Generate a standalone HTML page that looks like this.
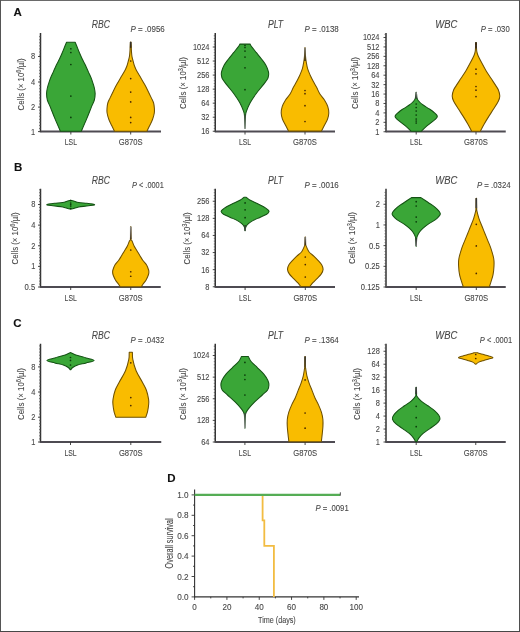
<!DOCTYPE html><html><head><meta charset="utf-8"><style>html,body{margin:0;padding:0;background:#fff;}svg{display:block;will-change:transform;font-family:"Liberation Sans",sans-serif;}</style></head><body>
<svg width="520" height="632" viewBox="0 0 520 632">
<rect x="0" y="0" width="520" height="632" fill="#fff"/>
<text x="13.6" y="15.8" font-size="11.5" text-anchor="start" font-weight="bold" fill="#111" stroke="#111" stroke-width="0.1">A</text>
<text x="14.1" y="171.2" font-size="11.5" text-anchor="start" font-weight="bold" fill="#111" stroke="#111" stroke-width="0.1">B</text>
<text x="13.3" y="326.6" font-size="11.5" text-anchor="start" font-weight="bold" fill="#111" stroke="#111" stroke-width="0.1">C</text>
<text x="167.2" y="481.6" font-size="11.5" text-anchor="start" font-weight="bold" fill="#111" stroke="#111" stroke-width="0.1">D</text>
<line x1="40.5" y1="33" x2="40.5" y2="132.3" stroke="#333333" stroke-width="1.5"/><line x1="38.0" y1="131.6" x2="40.5" y2="131.6" stroke="#333333" stroke-width="0.9"/><text x="35.1" y="134.5" font-size="8.3" text-anchor="end" font-weight="normal" fill="#474747" stroke="#474747" stroke-width="0.1" textLength="4.15" lengthAdjust="spacingAndGlyphs">1</text><line x1="38.0" y1="107.1" x2="40.5" y2="107.1" stroke="#333333" stroke-width="0.9"/><text x="35.1" y="110.0" font-size="8.3" text-anchor="end" font-weight="normal" fill="#474747" stroke="#474747" stroke-width="0.1" textLength="4.15" lengthAdjust="spacingAndGlyphs">2</text><line x1="38.0" y1="82" x2="40.5" y2="82" stroke="#333333" stroke-width="0.9"/><text x="35.1" y="84.9" font-size="8.3" text-anchor="end" font-weight="normal" fill="#474747" stroke="#474747" stroke-width="0.1" textLength="4.15" lengthAdjust="spacingAndGlyphs">4</text><line x1="38.0" y1="56.5" x2="40.5" y2="56.5" stroke="#333333" stroke-width="0.9"/><text x="35.1" y="59.4" font-size="8.3" text-anchor="end" font-weight="normal" fill="#474747" stroke="#474747" stroke-width="0.1" textLength="4.15" lengthAdjust="spacingAndGlyphs">8</text><line x1="39.00" y1="128.54" x2="40.5" y2="128.54" stroke="#555" stroke-width="0.75"/><line x1="39.00" y1="125.47" x2="40.5" y2="125.47" stroke="#555" stroke-width="0.75"/><line x1="39.00" y1="122.41" x2="40.5" y2="122.41" stroke="#555" stroke-width="0.75"/><line x1="39.00" y1="119.35" x2="40.5" y2="119.35" stroke="#555" stroke-width="0.75"/><line x1="39.00" y1="116.29" x2="40.5" y2="116.29" stroke="#555" stroke-width="0.75"/><line x1="39.00" y1="113.22" x2="40.5" y2="113.22" stroke="#555" stroke-width="0.75"/><line x1="39.00" y1="110.16" x2="40.5" y2="110.16" stroke="#555" stroke-width="0.75"/><line x1="39.00" y1="104.04" x2="40.5" y2="104.04" stroke="#555" stroke-width="0.75"/><line x1="39.00" y1="100.97" x2="40.5" y2="100.97" stroke="#555" stroke-width="0.75"/><line x1="39.00" y1="97.91" x2="40.5" y2="97.91" stroke="#555" stroke-width="0.75"/><line x1="39.00" y1="94.85" x2="40.5" y2="94.85" stroke="#555" stroke-width="0.75"/><line x1="39.00" y1="91.79" x2="40.5" y2="91.79" stroke="#555" stroke-width="0.75"/><line x1="39.00" y1="88.72" x2="40.5" y2="88.72" stroke="#555" stroke-width="0.75"/><line x1="39.00" y1="85.66" x2="40.5" y2="85.66" stroke="#555" stroke-width="0.75"/><line x1="39.00" y1="79.54" x2="40.5" y2="79.54" stroke="#555" stroke-width="0.75"/><line x1="39.00" y1="76.47" x2="40.5" y2="76.47" stroke="#555" stroke-width="0.75"/><line x1="39.00" y1="73.41" x2="40.5" y2="73.41" stroke="#555" stroke-width="0.75"/><line x1="39.00" y1="70.35" x2="40.5" y2="70.35" stroke="#555" stroke-width="0.75"/><line x1="39.00" y1="67.29" x2="40.5" y2="67.29" stroke="#555" stroke-width="0.75"/><line x1="39.00" y1="64.22" x2="40.5" y2="64.22" stroke="#555" stroke-width="0.75"/><line x1="39.00" y1="61.16" x2="40.5" y2="61.16" stroke="#555" stroke-width="0.75"/><line x1="39.00" y1="55.04" x2="40.5" y2="55.04" stroke="#555" stroke-width="0.75"/><line x1="39.00" y1="51.97" x2="40.5" y2="51.97" stroke="#555" stroke-width="0.75"/><line x1="39.00" y1="48.91" x2="40.5" y2="48.91" stroke="#555" stroke-width="0.75"/><line x1="39.00" y1="45.85" x2="40.5" y2="45.85" stroke="#555" stroke-width="0.75"/><line x1="39.00" y1="42.79" x2="40.5" y2="42.79" stroke="#555" stroke-width="0.75"/><line x1="39.00" y1="39.72" x2="40.5" y2="39.72" stroke="#555" stroke-width="0.75"/><line x1="39.00" y1="36.66" x2="40.5" y2="36.66" stroke="#555" stroke-width="0.75"/><line x1="40.5" y1="131.5" x2="161" y2="131.5" stroke="#4e4b52" stroke-width="1.8"/><line x1="70.85" y1="131.5" x2="70.85" y2="134.5" stroke="#333333" stroke-width="0.9"/><line x1="130.7" y1="131.5" x2="130.7" y2="134.5" stroke="#333333" stroke-width="0.9"/><path d="M75.15,42.20 C75.43,42.88 76.13,44.55 76.85,46.30 C77.57,48.05 78.55,50.58 79.45,52.70 C80.35,54.82 81.25,56.90 82.25,59.00 C83.25,61.10 84.45,63.20 85.45,65.30 C86.45,67.40 87.30,69.48 88.25,71.60 C89.20,73.72 90.38,76.12 91.15,78.00 C91.92,79.88 92.32,81.23 92.85,82.90 C93.38,84.57 93.97,86.23 94.35,88.00 C94.73,89.77 95.15,91.50 95.15,93.50 C95.15,95.50 95.00,97.68 94.35,100.00 C93.70,102.32 92.53,104.25 91.25,107.40 C89.97,110.55 88.32,114.92 86.65,118.90 C84.98,122.88 82.15,129.23 81.25,131.30 L60.45,131.30 C59.55,129.23 56.72,122.88 55.05,118.90 C53.38,114.92 51.73,110.55 50.45,107.40 C49.17,104.25 48.00,102.32 47.35,100.00 C46.70,97.68 46.55,95.50 46.55,93.50 C46.55,91.50 46.97,89.77 47.35,88.00 C47.73,86.23 48.32,84.57 48.85,82.90 C49.38,81.23 49.78,79.88 50.55,78.00 C51.32,76.12 52.50,73.72 53.45,71.60 C54.40,69.48 55.25,67.40 56.25,65.30 C57.25,63.20 58.45,61.10 59.45,59.00 C60.45,56.90 61.35,54.82 62.25,52.70 C63.15,50.58 64.13,48.05 64.85,46.30 C65.57,44.55 66.27,42.88 66.55,42.20 Z" fill="#3aa637" stroke="#145214" stroke-width="1.05" stroke-linejoin="round"/><path d="M131.00,42.00 C131.05,42.93 131.22,45.95 131.30,47.60 C131.38,49.25 131.38,50.38 131.50,51.90 C131.62,53.42 131.72,55.12 132.00,56.70 C132.28,58.28 132.77,59.82 133.20,61.40 C133.63,62.98 133.98,64.55 134.60,66.20 C135.22,67.85 135.85,69.33 136.90,71.30 C137.95,73.27 139.60,75.78 140.90,78.00 C142.20,80.22 143.50,82.40 144.70,84.60 C145.90,86.80 147.00,88.98 148.10,91.20 C149.20,93.42 150.38,95.93 151.30,97.90 C152.22,99.87 153.08,101.23 153.60,103.00 C154.12,104.77 154.28,106.83 154.40,108.50 C154.52,110.17 154.60,111.20 154.30,113.00 C154.00,114.80 153.37,117.20 152.60,119.30 C151.83,121.40 150.65,123.60 149.70,125.60 C148.75,127.60 147.37,130.35 146.90,131.30 L114.50,131.30 C114.03,130.35 112.65,127.60 111.70,125.60 C110.75,123.60 109.57,121.40 108.80,119.30 C108.03,117.20 107.40,114.80 107.10,113.00 C106.80,111.20 106.88,110.17 107.00,108.50 C107.12,106.83 107.28,104.77 107.80,103.00 C108.32,101.23 109.18,99.87 110.10,97.90 C111.02,95.93 112.20,93.42 113.30,91.20 C114.40,88.98 115.50,86.80 116.70,84.60 C117.90,82.40 119.20,80.22 120.50,78.00 C121.80,75.78 123.45,73.27 124.50,71.30 C125.55,69.33 126.18,67.85 126.80,66.20 C127.42,64.55 127.77,62.98 128.20,61.40 C128.63,59.82 129.12,58.28 129.40,56.70 C129.68,55.12 129.78,53.42 129.90,51.90 C130.02,50.38 130.02,49.25 130.10,47.60 C130.18,45.95 130.35,42.93 130.40,42.00 Z" fill="#f9bc00" stroke="#6e5000" stroke-width="1.05" stroke-linejoin="round"/><linearGradient id="tg1" gradientUnits="userSpaceOnUse" x1="0" y1="41.9" x2="0" y2="47.8"><stop offset="0" stop-color="#333"/><stop offset="1" stop-color="#3a2a10"/></linearGradient><line x1="130.7" y1="41.9" x2="130.7" y2="47.8" stroke="url(#tg1)" stroke-width="1.6"/><circle cx="70.85" cy="48.75" r="0.85" fill="#0a3a0a"/><circle cx="70.85" cy="52.5" r="0.85" fill="#0a3a0a"/><circle cx="70.85" cy="64.5" r="0.85" fill="#0a3a0a"/><circle cx="70.85" cy="96.1" r="0.85" fill="#0a3a0a"/><circle cx="70.85" cy="117.4" r="0.85" fill="#0a3a0a"/><circle cx="130.7" cy="61" r="0.85" fill="#4a2800"/><circle cx="130.7" cy="78.6" r="0.85" fill="#4a2800"/><circle cx="130.7" cy="92.1" r="0.85" fill="#4a2800"/><circle cx="130.7" cy="101.9" r="0.85" fill="#4a2800"/><circle cx="130.7" cy="117.4" r="0.85" fill="#4a2800"/><circle cx="130.7" cy="122.6" r="0.85" fill="#4a2800"/><text x="70.85" y="145.2" font-size="8.2" text-anchor="middle" font-weight="normal" fill="#474747" stroke="#474747" stroke-width="0.1" textLength="12.2" lengthAdjust="spacingAndGlyphs">LSL</text><text x="130.7" y="145.2" font-size="8.2" text-anchor="middle" font-weight="normal" fill="#474747" stroke="#474747" stroke-width="0.1" textLength="23.8" lengthAdjust="spacingAndGlyphs">G870S</text><text x="100.8" y="28.1" font-size="10" text-anchor="middle" font-weight="normal" fill="#474747" stroke="#474747" stroke-width="0.1" font-style="italic" textLength="18.2" lengthAdjust="spacingAndGlyphs">RBC</text><text x="130.5" y="32" font-size="8.6" fill="#474747" stroke="#474747" stroke-width="0.1" textLength="34.30" lengthAdjust="spacingAndGlyphs"><tspan font-style="italic">P</tspan> = .0956</text><text transform="translate(24.1,84.4) rotate(-90)" font-size="9" text-anchor="middle" fill="#474747" stroke="#474747" stroke-width="0.1" textLength="52" lengthAdjust="spacingAndGlyphs">Cells (× 10<tspan font-size="6.5" dy="-3.3">6</tspan><tspan dy="3.3">/µl)</tspan></text>
<line x1="215.25" y1="33" x2="215.25" y2="132.3" stroke="#333333" stroke-width="1.5"/><line x1="212.75" y1="131.25" x2="215.25" y2="131.25" stroke="#333333" stroke-width="0.9"/><text x="209.5" y="134.15" font-size="8.3" text-anchor="end" font-weight="normal" fill="#474747" stroke="#474747" stroke-width="0.1" textLength="8.3" lengthAdjust="spacingAndGlyphs">16</text><line x1="212.75" y1="117.20833333333333" x2="215.25" y2="117.20833333333333" stroke="#333333" stroke-width="0.9"/><text x="209.5" y="120.11" font-size="8.3" text-anchor="end" font-weight="normal" fill="#474747" stroke="#474747" stroke-width="0.1" textLength="8.3" lengthAdjust="spacingAndGlyphs">32</text><line x1="212.75" y1="103.16666666666667" x2="215.25" y2="103.16666666666667" stroke="#333333" stroke-width="0.9"/><text x="209.5" y="106.07" font-size="8.3" text-anchor="end" font-weight="normal" fill="#474747" stroke="#474747" stroke-width="0.1" textLength="8.3" lengthAdjust="spacingAndGlyphs">64</text><line x1="212.75" y1="89.125" x2="215.25" y2="89.125" stroke="#333333" stroke-width="0.9"/><text x="209.5" y="92.03" font-size="8.3" text-anchor="end" font-weight="normal" fill="#474747" stroke="#474747" stroke-width="0.1" textLength="12.45" lengthAdjust="spacingAndGlyphs">128</text><line x1="212.75" y1="75.08333333333334" x2="215.25" y2="75.08333333333334" stroke="#333333" stroke-width="0.9"/><text x="209.5" y="77.98" font-size="8.3" text-anchor="end" font-weight="normal" fill="#474747" stroke="#474747" stroke-width="0.1" textLength="12.45" lengthAdjust="spacingAndGlyphs">256</text><line x1="212.75" y1="61.04166666666667" x2="215.25" y2="61.04166666666667" stroke="#333333" stroke-width="0.9"/><text x="209.5" y="63.94" font-size="8.3" text-anchor="end" font-weight="normal" fill="#474747" stroke="#474747" stroke-width="0.1" textLength="12.45" lengthAdjust="spacingAndGlyphs">512</text><line x1="212.75" y1="47.0" x2="215.25" y2="47.0" stroke="#333333" stroke-width="0.9"/><text x="209.5" y="49.9" font-size="8.3" text-anchor="end" font-weight="normal" fill="#474747" stroke="#474747" stroke-width="0.1" textLength="16.6" lengthAdjust="spacingAndGlyphs">1024</text><line x1="213.75" y1="128.44" x2="215.25" y2="128.44" stroke="#555" stroke-width="0.75"/><line x1="213.75" y1="125.63" x2="215.25" y2="125.63" stroke="#555" stroke-width="0.75"/><line x1="213.75" y1="122.82" x2="215.25" y2="122.82" stroke="#555" stroke-width="0.75"/><line x1="213.75" y1="120.02" x2="215.25" y2="120.02" stroke="#555" stroke-width="0.75"/><line x1="213.75" y1="114.40" x2="215.25" y2="114.40" stroke="#555" stroke-width="0.75"/><line x1="213.75" y1="111.59" x2="215.25" y2="111.59" stroke="#555" stroke-width="0.75"/><line x1="213.75" y1="108.78" x2="215.25" y2="108.78" stroke="#555" stroke-width="0.75"/><line x1="213.75" y1="105.97" x2="215.25" y2="105.97" stroke="#555" stroke-width="0.75"/><line x1="213.75" y1="100.36" x2="215.25" y2="100.36" stroke="#555" stroke-width="0.75"/><line x1="213.75" y1="97.55" x2="215.25" y2="97.55" stroke="#555" stroke-width="0.75"/><line x1="213.75" y1="94.74" x2="215.25" y2="94.74" stroke="#555" stroke-width="0.75"/><line x1="213.75" y1="91.93" x2="215.25" y2="91.93" stroke="#555" stroke-width="0.75"/><line x1="213.75" y1="86.32" x2="215.25" y2="86.32" stroke="#555" stroke-width="0.75"/><line x1="213.75" y1="83.51" x2="215.25" y2="83.51" stroke="#555" stroke-width="0.75"/><line x1="213.75" y1="80.70" x2="215.25" y2="80.70" stroke="#555" stroke-width="0.75"/><line x1="213.75" y1="77.89" x2="215.25" y2="77.89" stroke="#555" stroke-width="0.75"/><line x1="213.75" y1="72.27" x2="215.25" y2="72.27" stroke="#555" stroke-width="0.75"/><line x1="213.75" y1="69.47" x2="215.25" y2="69.47" stroke="#555" stroke-width="0.75"/><line x1="213.75" y1="66.66" x2="215.25" y2="66.66" stroke="#555" stroke-width="0.75"/><line x1="213.75" y1="63.85" x2="215.25" y2="63.85" stroke="#555" stroke-width="0.75"/><line x1="213.75" y1="58.23" x2="215.25" y2="58.23" stroke="#555" stroke-width="0.75"/><line x1="213.75" y1="55.42" x2="215.25" y2="55.42" stroke="#555" stroke-width="0.75"/><line x1="213.75" y1="52.62" x2="215.25" y2="52.62" stroke="#555" stroke-width="0.75"/><line x1="213.75" y1="49.81" x2="215.25" y2="49.81" stroke="#555" stroke-width="0.75"/><line x1="213.75" y1="44.19" x2="215.25" y2="44.19" stroke="#555" stroke-width="0.75"/><line x1="213.75" y1="41.38" x2="215.25" y2="41.38" stroke="#555" stroke-width="0.75"/><line x1="213.75" y1="38.57" x2="215.25" y2="38.57" stroke="#555" stroke-width="0.75"/><line x1="213.75" y1="35.77" x2="215.25" y2="35.77" stroke="#555" stroke-width="0.75"/><line x1="215.25" y1="131.5" x2="335" y2="131.5" stroke="#4e4b52" stroke-width="1.8"/><line x1="245" y1="131.5" x2="245" y2="134.5" stroke="#333333" stroke-width="0.9"/><line x1="305" y1="131.5" x2="305" y2="134.5" stroke="#333333" stroke-width="0.9"/><path d="M250.10,44.10 C250.30,44.47 250.25,44.87 251.30,46.30 C252.35,47.73 254.70,50.58 256.40,52.70 C258.10,54.82 259.92,56.90 261.50,59.00 C263.08,61.10 264.75,63.20 265.90,65.30 C267.05,67.40 267.95,69.98 268.40,71.60 C268.85,73.22 268.75,73.77 268.60,75.00 C268.45,76.23 268.40,77.35 267.50,79.00 C266.60,80.65 265.10,82.45 263.20,84.90 C261.30,87.35 258.25,90.75 256.10,93.70 C253.95,96.65 251.92,99.65 250.30,102.60 C248.68,105.55 247.20,109.17 246.40,111.40 C245.60,113.63 245.70,113.18 245.50,116.00 C245.30,118.82 245.25,126.25 245.20,128.30 L244.80,128.30 C244.75,126.25 244.70,118.82 244.50,116.00 C244.30,113.18 244.40,113.63 243.60,111.40 C242.80,109.17 241.32,105.55 239.70,102.60 C238.08,99.65 236.05,96.65 233.90,93.70 C231.75,90.75 228.70,87.35 226.80,84.90 C224.90,82.45 223.40,80.65 222.50,79.00 C221.60,77.35 221.55,76.23 221.40,75.00 C221.25,73.77 221.15,73.22 221.60,71.60 C222.05,69.98 222.95,67.40 224.10,65.30 C225.25,63.20 226.92,61.10 228.50,59.00 C230.08,56.90 231.90,54.82 233.60,52.70 C235.30,50.58 237.65,47.73 238.70,46.30 C239.75,44.87 239.70,44.47 239.90,44.10 Z" fill="#3aa637" stroke="#145214" stroke-width="1.05" stroke-linejoin="round"/><path d="M305.20,47.80 C305.25,49.17 305.32,53.58 305.50,56.00 C305.68,58.42 305.95,60.18 306.30,62.30 C306.65,64.42 306.97,66.58 307.60,68.70 C308.23,70.82 309.17,72.90 310.10,75.00 C311.03,77.10 312.10,79.20 313.20,81.30 C314.30,83.40 315.58,85.48 316.70,87.60 C317.82,89.72 318.58,91.88 319.90,94.00 C321.22,96.12 323.28,98.18 324.60,100.30 C325.92,102.42 327.10,104.58 327.80,106.70 C328.50,108.82 328.85,110.90 328.80,113.00 C328.75,115.10 328.25,117.20 327.50,119.30 C326.75,121.40 325.30,123.63 324.30,125.60 C323.30,127.57 321.97,130.18 321.50,131.10 L288.50,131.10 C288.03,130.18 286.70,127.57 285.70,125.60 C284.70,123.63 283.25,121.40 282.50,119.30 C281.75,117.20 281.25,115.10 281.20,113.00 C281.15,110.90 281.50,108.82 282.20,106.70 C282.90,104.58 284.08,102.42 285.40,100.30 C286.72,98.18 288.78,96.12 290.10,94.00 C291.42,91.88 292.18,89.72 293.30,87.60 C294.42,85.48 295.70,83.40 296.80,81.30 C297.90,79.20 298.97,77.10 299.90,75.00 C300.83,72.90 301.77,70.82 302.40,68.70 C303.03,66.58 303.35,64.42 303.70,62.30 C304.05,60.18 304.32,58.42 304.50,56.00 C304.68,53.58 304.75,49.17 304.80,47.80 Z" fill="#f9bc00" stroke="#6e5000" stroke-width="1.05" stroke-linejoin="round"/><linearGradient id="tg2" gradientUnits="userSpaceOnUse" x1="0" y1="115" x2="0" y2="129"><stop offset="0" stop-color="#3a4a3a"/><stop offset="1" stop-color="#a0a0a0"/></linearGradient><line x1="245" y1="115" x2="245" y2="129" stroke="url(#tg2)" stroke-width="1.6"/><linearGradient id="tg3" gradientUnits="userSpaceOnUse" x1="0" y1="47.8" x2="0" y2="61"><stop offset="0" stop-color="#858585"/><stop offset="1" stop-color="#3a2a00"/></linearGradient><line x1="305" y1="47.8" x2="305" y2="61" stroke="url(#tg3)" stroke-width="1.6"/><circle cx="245" cy="45.5" r="0.85" fill="#0a3a0a"/><circle cx="245" cy="47.5" r="0.85" fill="#0a3a0a"/><circle cx="245" cy="51.1" r="0.85" fill="#0a3a0a"/><circle cx="245" cy="57.1" r="0.85" fill="#0a3a0a"/><circle cx="245" cy="67.8" r="0.85" fill="#0a3a0a"/><circle cx="245" cy="89.7" r="0.85" fill="#0a3a0a"/><circle cx="305" cy="90.5" r="0.85" fill="#4a2800"/><circle cx="305" cy="93.7" r="0.85" fill="#4a2800"/><circle cx="305" cy="105.7" r="0.85" fill="#4a2800"/><circle cx="305" cy="121.5" r="0.85" fill="#4a2800"/><text x="245" y="145.2" font-size="8.2" text-anchor="middle" font-weight="normal" fill="#474747" stroke="#474747" stroke-width="0.1" textLength="12.2" lengthAdjust="spacingAndGlyphs">LSL</text><text x="305" y="145.2" font-size="8.2" text-anchor="middle" font-weight="normal" fill="#474747" stroke="#474747" stroke-width="0.1" textLength="23.8" lengthAdjust="spacingAndGlyphs">G870S</text><text x="275.55" y="28.1" font-size="10" text-anchor="middle" font-weight="normal" fill="#474747" stroke="#474747" stroke-width="0.1" font-style="italic" textLength="15.2" lengthAdjust="spacingAndGlyphs">PLT</text><text x="304.6" y="32" font-size="8.6" fill="#474747" stroke="#474747" stroke-width="0.1" textLength="34.20" lengthAdjust="spacingAndGlyphs"><tspan font-style="italic">P</tspan> = .0138</text><text transform="translate(186.3,83) rotate(-90)" font-size="9" text-anchor="middle" fill="#474747" stroke="#474747" stroke-width="0.1" textLength="52" lengthAdjust="spacingAndGlyphs">Cells (× 10<tspan font-size="6.5" dy="-3.3">3</tspan><tspan dy="3.3">/µl)</tspan></text>
<line x1="386" y1="33" x2="386" y2="132.3" stroke="#333333" stroke-width="1.5"/><line x1="383.5" y1="131.75" x2="386" y2="131.75" stroke="#333333" stroke-width="0.9"/><text x="379.5" y="134.65" font-size="8.3" text-anchor="end" font-weight="normal" fill="#474747" stroke="#474747" stroke-width="0.1" textLength="4.15" lengthAdjust="spacingAndGlyphs">1</text><line x1="383.5" y1="122.325" x2="386" y2="122.325" stroke="#333333" stroke-width="0.9"/><text x="379.5" y="125.23" font-size="8.3" text-anchor="end" font-weight="normal" fill="#474747" stroke="#474747" stroke-width="0.1" textLength="4.15" lengthAdjust="spacingAndGlyphs">2</text><line x1="383.5" y1="112.9" x2="386" y2="112.9" stroke="#333333" stroke-width="0.9"/><text x="379.5" y="115.8" font-size="8.3" text-anchor="end" font-weight="normal" fill="#474747" stroke="#474747" stroke-width="0.1" textLength="4.15" lengthAdjust="spacingAndGlyphs">4</text><line x1="383.5" y1="103.475" x2="386" y2="103.475" stroke="#333333" stroke-width="0.9"/><text x="379.5" y="106.38" font-size="8.3" text-anchor="end" font-weight="normal" fill="#474747" stroke="#474747" stroke-width="0.1" textLength="4.15" lengthAdjust="spacingAndGlyphs">8</text><line x1="383.5" y1="94.05" x2="386" y2="94.05" stroke="#333333" stroke-width="0.9"/><text x="379.5" y="96.95" font-size="8.3" text-anchor="end" font-weight="normal" fill="#474747" stroke="#474747" stroke-width="0.1" textLength="8.3" lengthAdjust="spacingAndGlyphs">16</text><line x1="383.5" y1="84.625" x2="386" y2="84.625" stroke="#333333" stroke-width="0.9"/><text x="379.5" y="87.53" font-size="8.3" text-anchor="end" font-weight="normal" fill="#474747" stroke="#474747" stroke-width="0.1" textLength="8.3" lengthAdjust="spacingAndGlyphs">32</text><line x1="383.5" y1="75.2" x2="386" y2="75.2" stroke="#333333" stroke-width="0.9"/><text x="379.5" y="78.1" font-size="8.3" text-anchor="end" font-weight="normal" fill="#474747" stroke="#474747" stroke-width="0.1" textLength="8.3" lengthAdjust="spacingAndGlyphs">64</text><line x1="383.5" y1="65.775" x2="386" y2="65.775" stroke="#333333" stroke-width="0.9"/><text x="379.5" y="68.68" font-size="8.3" text-anchor="end" font-weight="normal" fill="#474747" stroke="#474747" stroke-width="0.1" textLength="12.45" lengthAdjust="spacingAndGlyphs">128</text><line x1="383.5" y1="56.349999999999994" x2="386" y2="56.349999999999994" stroke="#333333" stroke-width="0.9"/><text x="379.5" y="59.25" font-size="8.3" text-anchor="end" font-weight="normal" fill="#474747" stroke="#474747" stroke-width="0.1" textLength="12.45" lengthAdjust="spacingAndGlyphs">256</text><line x1="383.5" y1="46.925" x2="386" y2="46.925" stroke="#333333" stroke-width="0.9"/><text x="379.5" y="49.82" font-size="8.3" text-anchor="end" font-weight="normal" fill="#474747" stroke="#474747" stroke-width="0.1" textLength="12.45" lengthAdjust="spacingAndGlyphs">512</text><line x1="383.5" y1="37.5" x2="386" y2="37.5" stroke="#333333" stroke-width="0.9"/><text x="379.5" y="40.4" font-size="8.3" text-anchor="end" font-weight="normal" fill="#474747" stroke="#474747" stroke-width="0.1" textLength="16.6" lengthAdjust="spacingAndGlyphs">1024</text><line x1="384.50" y1="128.61" x2="386" y2="128.61" stroke="#555" stroke-width="0.75"/><line x1="384.50" y1="125.47" x2="386" y2="125.47" stroke="#555" stroke-width="0.75"/><line x1="384.50" y1="119.18" x2="386" y2="119.18" stroke="#555" stroke-width="0.75"/><line x1="384.50" y1="116.04" x2="386" y2="116.04" stroke="#555" stroke-width="0.75"/><line x1="384.50" y1="109.76" x2="386" y2="109.76" stroke="#555" stroke-width="0.75"/><line x1="384.50" y1="106.62" x2="386" y2="106.62" stroke="#555" stroke-width="0.75"/><line x1="384.50" y1="100.33" x2="386" y2="100.33" stroke="#555" stroke-width="0.75"/><line x1="384.50" y1="97.19" x2="386" y2="97.19" stroke="#555" stroke-width="0.75"/><line x1="384.50" y1="90.91" x2="386" y2="90.91" stroke="#555" stroke-width="0.75"/><line x1="384.50" y1="87.77" x2="386" y2="87.77" stroke="#555" stroke-width="0.75"/><line x1="384.50" y1="81.48" x2="386" y2="81.48" stroke="#555" stroke-width="0.75"/><line x1="384.50" y1="78.34" x2="386" y2="78.34" stroke="#555" stroke-width="0.75"/><line x1="384.50" y1="72.06" x2="386" y2="72.06" stroke="#555" stroke-width="0.75"/><line x1="384.50" y1="68.92" x2="386" y2="68.92" stroke="#555" stroke-width="0.75"/><line x1="384.50" y1="62.63" x2="386" y2="62.63" stroke="#555" stroke-width="0.75"/><line x1="384.50" y1="59.49" x2="386" y2="59.49" stroke="#555" stroke-width="0.75"/><line x1="384.50" y1="53.21" x2="386" y2="53.21" stroke="#555" stroke-width="0.75"/><line x1="384.50" y1="50.07" x2="386" y2="50.07" stroke="#555" stroke-width="0.75"/><line x1="384.50" y1="43.78" x2="386" y2="43.78" stroke="#555" stroke-width="0.75"/><line x1="384.50" y1="40.64" x2="386" y2="40.64" stroke="#555" stroke-width="0.75"/><line x1="384.50" y1="34.36" x2="386" y2="34.36" stroke="#555" stroke-width="0.75"/><line x1="386" y1="131.5" x2="505.75" y2="131.5" stroke="#4e4b52" stroke-width="1.8"/><line x1="416.2" y1="131.5" x2="416.2" y2="134.5" stroke="#333333" stroke-width="0.9"/><line x1="476" y1="131.5" x2="476" y2="134.5" stroke="#333333" stroke-width="0.9"/><path d="M416.40,92.20 C416.53,93.27 416.68,96.97 417.20,98.60 C417.72,100.23 418.45,100.88 419.50,102.00 C420.55,103.12 421.95,104.20 423.50,105.30 C425.05,106.40 427.13,107.48 428.80,108.60 C430.47,109.72 432.08,110.67 433.50,112.00 C434.92,113.33 437.53,114.95 437.30,116.60 C437.07,118.25 433.97,120.23 432.10,121.90 C430.23,123.57 427.92,125.03 426.10,126.60 C424.28,128.17 422.02,130.52 421.20,131.30 L411.20,131.30 C410.38,130.52 408.12,128.17 406.30,126.60 C404.48,125.03 402.17,123.57 400.30,121.90 C398.43,120.23 395.33,118.25 395.10,116.60 C394.87,114.95 397.48,113.33 398.90,112.00 C400.32,110.67 401.93,109.72 403.60,108.60 C405.27,107.48 407.35,106.40 408.90,105.30 C410.45,104.20 411.85,103.12 412.90,102.00 C413.95,100.88 414.68,100.23 415.20,98.60 C415.72,96.97 415.87,93.27 416.00,92.20 Z" fill="#3aa637" stroke="#145214" stroke-width="1.05" stroke-linejoin="round"/><path d="M476.30,42.60 C476.33,43.50 476.42,46.53 476.50,48.00 C476.58,49.47 476.57,50.20 476.80,51.40 C477.03,52.60 477.08,53.30 477.90,55.20 C478.72,57.10 480.37,60.27 481.70,62.80 C483.03,65.33 484.38,67.87 485.90,70.40 C487.42,72.93 489.15,75.47 490.80,78.00 C492.45,80.53 494.55,83.63 495.80,85.60 C497.05,87.57 497.63,88.08 498.30,89.80 C498.97,91.52 499.80,94.00 499.80,95.90 C499.80,97.80 499.32,99.05 498.30,101.20 C497.28,103.35 495.28,106.27 493.70,108.80 C492.12,111.33 490.38,113.87 488.80,116.40 C487.22,118.93 485.62,121.52 484.20,124.00 C482.78,126.48 480.95,130.08 480.30,131.30 L471.70,131.30 C471.05,130.08 469.22,126.48 467.80,124.00 C466.38,121.52 464.78,118.93 463.20,116.40 C461.62,113.87 459.88,111.33 458.30,108.80 C456.72,106.27 454.72,103.35 453.70,101.20 C452.68,99.05 452.20,97.80 452.20,95.90 C452.20,94.00 453.03,91.52 453.70,89.80 C454.37,88.08 454.95,87.57 456.20,85.60 C457.45,83.63 459.55,80.53 461.20,78.00 C462.85,75.47 464.58,72.93 466.10,70.40 C467.62,67.87 468.97,65.33 470.30,62.80 C471.63,60.27 473.28,57.10 474.10,55.20 C474.92,53.30 474.97,52.60 475.20,51.40 C475.43,50.20 475.42,49.47 475.50,48.00 C475.58,46.53 475.67,43.50 475.70,42.60 Z" fill="#f9bc00" stroke="#6e5000" stroke-width="1.05" stroke-linejoin="round"/><linearGradient id="tg4" gradientUnits="userSpaceOnUse" x1="0" y1="92.2" x2="0" y2="98.8"><stop offset="0" stop-color="#8a8a8a"/><stop offset="1" stop-color="#333"/></linearGradient><line x1="416.2" y1="92.2" x2="416.2" y2="98.8" stroke="url(#tg4)" stroke-width="1.6"/><linearGradient id="tg5" gradientUnits="userSpaceOnUse" x1="0" y1="42.2" x2="0" y2="48.5"><stop offset="0" stop-color="#222"/><stop offset="1" stop-color="#333"/></linearGradient><line x1="476" y1="42.2" x2="476" y2="48.5" stroke="url(#tg5)" stroke-width="1.6"/><circle cx="416.2" cy="104" r="0.85" fill="#0a3a0a"/><circle cx="416.2" cy="107.5" r="0.85" fill="#0a3a0a"/><circle cx="416.2" cy="111" r="0.85" fill="#0a3a0a"/><circle cx="416.2" cy="115" r="0.85" fill="#0a3a0a"/><circle cx="416.2" cy="119" r="0.85" fill="#0a3a0a"/><circle cx="416.2" cy="121" r="0.85" fill="#0a3a0a"/><circle cx="416.2" cy="123" r="0.85" fill="#0a3a0a"/><circle cx="476" cy="44" r="0.85" fill="#4a2800"/><circle cx="476" cy="47" r="0.85" fill="#4a2800"/><circle cx="476" cy="69.2" r="0.85" fill="#4a2800"/><circle cx="476" cy="73.8" r="0.85" fill="#4a2800"/><circle cx="476" cy="86.5" r="0.85" fill="#4a2800"/><circle cx="476" cy="90.2" r="0.85" fill="#4a2800"/><circle cx="476" cy="96.6" r="0.85" fill="#4a2800"/><text x="416.2" y="145.2" font-size="8.2" text-anchor="middle" font-weight="normal" fill="#474747" stroke="#474747" stroke-width="0.1" textLength="12.2" lengthAdjust="spacingAndGlyphs">LSL</text><text x="476" y="145.2" font-size="8.2" text-anchor="middle" font-weight="normal" fill="#474747" stroke="#474747" stroke-width="0.1" textLength="23.8" lengthAdjust="spacingAndGlyphs">G870S</text><text x="446.3" y="28.1" font-size="10" text-anchor="middle" font-weight="normal" fill="#474747" stroke="#474747" stroke-width="0.1" font-style="italic" textLength="22" lengthAdjust="spacingAndGlyphs">WBC</text><text x="480.8" y="32" font-size="8.6" fill="#474747" stroke="#474747" stroke-width="0.1" textLength="28.90" lengthAdjust="spacingAndGlyphs"><tspan font-style="italic">P</tspan> = .030</text><text transform="translate(358,83) rotate(-90)" font-size="9" text-anchor="middle" fill="#474747" stroke="#474747" stroke-width="0.1" textLength="52" lengthAdjust="spacingAndGlyphs">Cells (× 10<tspan font-size="6.5" dy="-3.3">3</tspan><tspan dy="3.3">/µl)</tspan></text>
<line x1="40.5" y1="188.75" x2="40.5" y2="287.8" stroke="#333333" stroke-width="1.5"/><line x1="38.0" y1="287.0" x2="40.5" y2="287.0" stroke="#333333" stroke-width="0.9"/><text x="35.3" y="289.9" font-size="8.3" text-anchor="end" font-weight="normal" fill="#474747" stroke="#474747" stroke-width="0.1" textLength="10.7" lengthAdjust="spacingAndGlyphs">0.5</text><line x1="38.0" y1="266.375" x2="40.5" y2="266.375" stroke="#333333" stroke-width="0.9"/><text x="35.3" y="269.27" font-size="8.3" text-anchor="end" font-weight="normal" fill="#474747" stroke="#474747" stroke-width="0.1" textLength="4.15" lengthAdjust="spacingAndGlyphs">1</text><line x1="38.0" y1="245.75" x2="40.5" y2="245.75" stroke="#333333" stroke-width="0.9"/><text x="35.3" y="248.65" font-size="8.3" text-anchor="end" font-weight="normal" fill="#474747" stroke="#474747" stroke-width="0.1" textLength="4.15" lengthAdjust="spacingAndGlyphs">2</text><line x1="38.0" y1="225.125" x2="40.5" y2="225.125" stroke="#333333" stroke-width="0.9"/><text x="35.3" y="228.03" font-size="8.3" text-anchor="end" font-weight="normal" fill="#474747" stroke="#474747" stroke-width="0.1" textLength="4.15" lengthAdjust="spacingAndGlyphs">4</text><line x1="38.0" y1="204.5" x2="40.5" y2="204.5" stroke="#333333" stroke-width="0.9"/><text x="35.3" y="207.4" font-size="8.3" text-anchor="end" font-weight="normal" fill="#474747" stroke="#474747" stroke-width="0.1" textLength="4.15" lengthAdjust="spacingAndGlyphs">8</text><line x1="39.00" y1="284.05" x2="40.5" y2="284.05" stroke="#555" stroke-width="0.75"/><line x1="39.00" y1="281.11" x2="40.5" y2="281.11" stroke="#555" stroke-width="0.75"/><line x1="39.00" y1="278.16" x2="40.5" y2="278.16" stroke="#555" stroke-width="0.75"/><line x1="39.00" y1="275.21" x2="40.5" y2="275.21" stroke="#555" stroke-width="0.75"/><line x1="39.00" y1="272.27" x2="40.5" y2="272.27" stroke="#555" stroke-width="0.75"/><line x1="39.00" y1="269.32" x2="40.5" y2="269.32" stroke="#555" stroke-width="0.75"/><line x1="39.00" y1="263.43" x2="40.5" y2="263.43" stroke="#555" stroke-width="0.75"/><line x1="39.00" y1="260.48" x2="40.5" y2="260.48" stroke="#555" stroke-width="0.75"/><line x1="39.00" y1="257.54" x2="40.5" y2="257.54" stroke="#555" stroke-width="0.75"/><line x1="39.00" y1="254.59" x2="40.5" y2="254.59" stroke="#555" stroke-width="0.75"/><line x1="39.00" y1="251.64" x2="40.5" y2="251.64" stroke="#555" stroke-width="0.75"/><line x1="39.00" y1="248.70" x2="40.5" y2="248.70" stroke="#555" stroke-width="0.75"/><line x1="39.00" y1="242.80" x2="40.5" y2="242.80" stroke="#555" stroke-width="0.75"/><line x1="39.00" y1="239.86" x2="40.5" y2="239.86" stroke="#555" stroke-width="0.75"/><line x1="39.00" y1="236.91" x2="40.5" y2="236.91" stroke="#555" stroke-width="0.75"/><line x1="39.00" y1="233.96" x2="40.5" y2="233.96" stroke="#555" stroke-width="0.75"/><line x1="39.00" y1="231.02" x2="40.5" y2="231.02" stroke="#555" stroke-width="0.75"/><line x1="39.00" y1="228.07" x2="40.5" y2="228.07" stroke="#555" stroke-width="0.75"/><line x1="39.00" y1="222.18" x2="40.5" y2="222.18" stroke="#555" stroke-width="0.75"/><line x1="39.00" y1="219.23" x2="40.5" y2="219.23" stroke="#555" stroke-width="0.75"/><line x1="39.00" y1="216.29" x2="40.5" y2="216.29" stroke="#555" stroke-width="0.75"/><line x1="39.00" y1="213.34" x2="40.5" y2="213.34" stroke="#555" stroke-width="0.75"/><line x1="39.00" y1="210.39" x2="40.5" y2="210.39" stroke="#555" stroke-width="0.75"/><line x1="39.00" y1="207.45" x2="40.5" y2="207.45" stroke="#555" stroke-width="0.75"/><line x1="39.00" y1="201.55" x2="40.5" y2="201.55" stroke="#555" stroke-width="0.75"/><line x1="39.00" y1="198.61" x2="40.5" y2="198.61" stroke="#555" stroke-width="0.75"/><line x1="39.00" y1="195.66" x2="40.5" y2="195.66" stroke="#555" stroke-width="0.75"/><line x1="39.00" y1="192.71" x2="40.5" y2="192.71" stroke="#555" stroke-width="0.75"/><line x1="39.00" y1="189.77" x2="40.5" y2="189.77" stroke="#555" stroke-width="0.75"/><line x1="40.5" y1="287" x2="160.75" y2="287" stroke="#4e4b52" stroke-width="1.8"/><line x1="70.7" y1="287" x2="70.7" y2="290" stroke="#333333" stroke-width="0.9"/><line x1="130.75" y1="287" x2="130.75" y2="290" stroke="#333333" stroke-width="0.9"/><path d="M70.90,200.30 C71.37,200.42 72.40,200.63 73.70,201.00 C75.00,201.37 76.53,202.12 78.70,202.50 C80.87,202.88 84.37,203.03 86.70,203.30 C89.03,203.57 91.37,203.87 92.70,204.10 C94.03,204.33 94.70,204.50 94.70,204.70 C94.70,204.90 94.03,205.07 92.70,205.30 C91.37,205.53 89.03,205.83 86.70,206.10 C84.37,206.37 80.87,206.52 78.70,206.90 C76.53,207.28 75.00,208.03 73.70,208.40 C72.40,208.77 71.37,208.98 70.90,209.10 L70.50,209.10 C70.03,208.98 69.00,208.77 67.70,208.40 C66.40,208.03 64.87,207.28 62.70,206.90 C60.53,206.52 57.03,206.37 54.70,206.10 C52.37,205.83 50.03,205.53 48.70,205.30 C47.37,205.07 46.70,204.90 46.70,204.70 C46.70,204.50 47.37,204.33 48.70,204.10 C50.03,203.87 52.37,203.57 54.70,203.30 C57.03,203.03 60.53,202.88 62.70,202.50 C64.87,202.12 66.40,201.37 67.70,201.00 C69.00,200.63 70.03,200.42 70.50,200.30 Z" fill="#3aa637" stroke="#145214" stroke-width="1.05" stroke-linejoin="round"/><path d="M130.95,226.70 C130.97,228.75 130.86,236.62 131.05,239.00 C131.24,241.38 131.59,239.83 132.10,241.00 C132.61,242.17 133.27,244.33 134.10,246.00 C134.93,247.67 136.10,249.33 137.10,251.00 C138.10,252.67 139.12,254.42 140.10,256.00 C141.07,257.58 141.87,259.00 142.95,260.50 C144.03,262.00 145.66,263.42 146.60,265.00 C147.54,266.58 148.22,268.75 148.60,270.00 C148.97,271.25 148.89,271.67 148.85,272.50 C148.81,273.33 148.81,273.75 148.35,275.00 C147.89,276.25 146.97,278.50 146.10,280.00 C145.22,281.50 143.89,282.87 143.10,284.00 C142.31,285.13 141.64,286.33 141.35,286.80 L120.15,286.80 C119.86,286.33 119.19,285.13 118.40,284.00 C117.61,282.87 116.28,281.50 115.40,280.00 C114.53,278.50 113.61,276.25 113.15,275.00 C112.69,273.75 112.69,273.33 112.65,272.50 C112.61,271.67 112.53,271.25 112.90,270.00 C113.28,268.75 113.96,266.58 114.90,265.00 C115.84,263.42 117.47,262.00 118.55,260.50 C119.63,259.00 120.43,257.58 121.40,256.00 C122.38,254.42 123.40,252.67 124.40,251.00 C125.40,249.33 126.57,247.67 127.40,246.00 C128.23,244.33 128.89,242.17 129.40,241.00 C129.91,239.83 130.26,241.38 130.45,239.00 C130.64,236.62 130.53,228.75 130.55,226.70 Z" fill="#f9bc00" stroke="#6e5000" stroke-width="1.05" stroke-linejoin="round"/><linearGradient id="tg6" gradientUnits="userSpaceOnUse" x1="0" y1="226.7" x2="0" y2="239"><stop offset="0" stop-color="#8a8a8a"/><stop offset="1" stop-color="#4a3a20"/></linearGradient><line x1="130.75" y1="226.7" x2="130.75" y2="239" stroke="url(#tg6)" stroke-width="1.6"/><circle cx="70.7" cy="200.5" r="0.85" fill="#0a3a0a"/><circle cx="70.7" cy="203" r="0.85" fill="#0a3a0a"/><circle cx="70.7" cy="204.5" r="0.85" fill="#0a3a0a"/><circle cx="70.7" cy="206" r="0.85" fill="#0a3a0a"/><circle cx="70.7" cy="208.5" r="0.85" fill="#0a3a0a"/><circle cx="130.75" cy="250" r="0.85" fill="#4a2800"/><circle cx="130.75" cy="271.75" r="0.85" fill="#4a2800"/><circle cx="130.75" cy="276.25" r="0.85" fill="#4a2800"/><text x="70.7" y="300.7" font-size="8.2" text-anchor="middle" font-weight="normal" fill="#474747" stroke="#474747" stroke-width="0.1" textLength="12.2" lengthAdjust="spacingAndGlyphs">LSL</text><text x="130.75" y="300.7" font-size="8.2" text-anchor="middle" font-weight="normal" fill="#474747" stroke="#474747" stroke-width="0.1" textLength="23.8" lengthAdjust="spacingAndGlyphs">G870S</text><text x="100.8" y="183.85" font-size="10" text-anchor="middle" font-weight="normal" fill="#474747" stroke="#474747" stroke-width="0.1" font-style="italic" textLength="18.2" lengthAdjust="spacingAndGlyphs">RBC</text><text x="132" y="187.75" font-size="8.6" fill="#474747" stroke="#474747" stroke-width="0.1" textLength="31.80" lengthAdjust="spacingAndGlyphs"><tspan font-style="italic">P</tspan> &lt; .0001</text><text transform="translate(18.3,238.4) rotate(-90)" font-size="9" text-anchor="middle" fill="#474747" stroke="#474747" stroke-width="0.1" textLength="52" lengthAdjust="spacingAndGlyphs">Cells (× 10<tspan font-size="6.5" dy="-3.3">6</tspan><tspan dy="3.3">/µl)</tspan></text>
<line x1="215.25" y1="188.75" x2="215.25" y2="287.8" stroke="#333333" stroke-width="1.5"/><line x1="212.75" y1="286.75" x2="215.25" y2="286.75" stroke="#333333" stroke-width="0.9"/><text x="209.5" y="289.65" font-size="8.3" text-anchor="end" font-weight="normal" fill="#474747" stroke="#474747" stroke-width="0.1" textLength="4.15" lengthAdjust="spacingAndGlyphs">8</text><line x1="212.75" y1="269.65" x2="215.25" y2="269.65" stroke="#333333" stroke-width="0.9"/><text x="209.5" y="272.55" font-size="8.3" text-anchor="end" font-weight="normal" fill="#474747" stroke="#474747" stroke-width="0.1" textLength="8.3" lengthAdjust="spacingAndGlyphs">16</text><line x1="212.75" y1="252.55" x2="215.25" y2="252.55" stroke="#333333" stroke-width="0.9"/><text x="209.5" y="255.45" font-size="8.3" text-anchor="end" font-weight="normal" fill="#474747" stroke="#474747" stroke-width="0.1" textLength="8.3" lengthAdjust="spacingAndGlyphs">32</text><line x1="212.75" y1="235.45" x2="215.25" y2="235.45" stroke="#333333" stroke-width="0.9"/><text x="209.5" y="238.35" font-size="8.3" text-anchor="end" font-weight="normal" fill="#474747" stroke="#474747" stroke-width="0.1" textLength="8.3" lengthAdjust="spacingAndGlyphs">64</text><line x1="212.75" y1="218.35" x2="215.25" y2="218.35" stroke="#333333" stroke-width="0.9"/><text x="209.5" y="221.25" font-size="8.3" text-anchor="end" font-weight="normal" fill="#474747" stroke="#474747" stroke-width="0.1" textLength="12.45" lengthAdjust="spacingAndGlyphs">128</text><line x1="212.75" y1="201.25" x2="215.25" y2="201.25" stroke="#333333" stroke-width="0.9"/><text x="209.5" y="204.15" font-size="8.3" text-anchor="end" font-weight="normal" fill="#474747" stroke="#474747" stroke-width="0.1" textLength="12.45" lengthAdjust="spacingAndGlyphs">256</text><line x1="213.75" y1="283.90" x2="215.25" y2="283.90" stroke="#555" stroke-width="0.75"/><line x1="213.75" y1="281.05" x2="215.25" y2="281.05" stroke="#555" stroke-width="0.75"/><line x1="213.75" y1="278.20" x2="215.25" y2="278.20" stroke="#555" stroke-width="0.75"/><line x1="213.75" y1="275.35" x2="215.25" y2="275.35" stroke="#555" stroke-width="0.75"/><line x1="213.75" y1="272.50" x2="215.25" y2="272.50" stroke="#555" stroke-width="0.75"/><line x1="213.75" y1="266.80" x2="215.25" y2="266.80" stroke="#555" stroke-width="0.75"/><line x1="213.75" y1="263.95" x2="215.25" y2="263.95" stroke="#555" stroke-width="0.75"/><line x1="213.75" y1="261.10" x2="215.25" y2="261.10" stroke="#555" stroke-width="0.75"/><line x1="213.75" y1="258.25" x2="215.25" y2="258.25" stroke="#555" stroke-width="0.75"/><line x1="213.75" y1="255.40" x2="215.25" y2="255.40" stroke="#555" stroke-width="0.75"/><line x1="213.75" y1="249.70" x2="215.25" y2="249.70" stroke="#555" stroke-width="0.75"/><line x1="213.75" y1="246.85" x2="215.25" y2="246.85" stroke="#555" stroke-width="0.75"/><line x1="213.75" y1="244.00" x2="215.25" y2="244.00" stroke="#555" stroke-width="0.75"/><line x1="213.75" y1="241.15" x2="215.25" y2="241.15" stroke="#555" stroke-width="0.75"/><line x1="213.75" y1="238.30" x2="215.25" y2="238.30" stroke="#555" stroke-width="0.75"/><line x1="213.75" y1="232.60" x2="215.25" y2="232.60" stroke="#555" stroke-width="0.75"/><line x1="213.75" y1="229.75" x2="215.25" y2="229.75" stroke="#555" stroke-width="0.75"/><line x1="213.75" y1="226.90" x2="215.25" y2="226.90" stroke="#555" stroke-width="0.75"/><line x1="213.75" y1="224.05" x2="215.25" y2="224.05" stroke="#555" stroke-width="0.75"/><line x1="213.75" y1="221.20" x2="215.25" y2="221.20" stroke="#555" stroke-width="0.75"/><line x1="213.75" y1="215.50" x2="215.25" y2="215.50" stroke="#555" stroke-width="0.75"/><line x1="213.75" y1="212.65" x2="215.25" y2="212.65" stroke="#555" stroke-width="0.75"/><line x1="213.75" y1="209.80" x2="215.25" y2="209.80" stroke="#555" stroke-width="0.75"/><line x1="213.75" y1="206.95" x2="215.25" y2="206.95" stroke="#555" stroke-width="0.75"/><line x1="213.75" y1="204.10" x2="215.25" y2="204.10" stroke="#555" stroke-width="0.75"/><line x1="213.75" y1="198.40" x2="215.25" y2="198.40" stroke="#555" stroke-width="0.75"/><line x1="213.75" y1="195.55" x2="215.25" y2="195.55" stroke="#555" stroke-width="0.75"/><line x1="213.75" y1="192.70" x2="215.25" y2="192.70" stroke="#555" stroke-width="0.75"/><line x1="213.75" y1="189.85" x2="215.25" y2="189.85" stroke="#555" stroke-width="0.75"/><line x1="215.25" y1="287" x2="335" y2="287" stroke="#4e4b52" stroke-width="1.8"/><line x1="245.1" y1="287" x2="245.1" y2="290" stroke="#333333" stroke-width="0.9"/><line x1="305.3" y1="287" x2="305.3" y2="290" stroke="#333333" stroke-width="0.9"/><path d="M246.30,197.30 C246.97,197.80 248.48,199.27 250.30,200.30 C252.12,201.33 254.98,202.43 257.20,203.50 C259.42,204.57 261.80,205.65 263.60,206.70 C265.40,207.75 267.10,208.97 268.00,209.80 C268.90,210.63 269.22,210.95 269.00,211.70 C268.78,212.45 268.23,213.35 266.70,214.30 C265.17,215.25 262.12,216.35 259.80,217.40 C257.48,218.45 254.70,219.55 252.80,220.60 C250.90,221.65 249.55,222.65 248.40,223.70 C247.25,224.75 246.42,225.73 245.90,226.90 C245.38,228.07 245.40,230.07 245.30,230.70 L244.90,230.70 C244.80,230.07 244.82,228.07 244.30,226.90 C243.78,225.73 242.95,224.75 241.80,223.70 C240.65,222.65 239.30,221.65 237.40,220.60 C235.50,219.55 232.72,218.45 230.40,217.40 C228.08,216.35 225.03,215.25 223.50,214.30 C221.97,213.35 221.42,212.45 221.20,211.70 C220.98,210.95 221.30,210.63 222.20,209.80 C223.10,208.97 224.80,207.75 226.60,206.70 C228.40,205.65 230.78,204.57 233.00,203.50 C235.22,202.43 238.08,201.33 239.90,200.30 C241.72,199.27 243.23,197.80 243.90,197.30 Z" fill="#3aa637" stroke="#145214" stroke-width="1.05" stroke-linejoin="round"/><path d="M305.50,237.10 C305.52,238.25 305.53,242.60 305.60,244.00 C305.67,245.40 305.35,244.22 305.90,245.50 C306.45,246.78 307.58,249.93 308.90,251.70 C310.22,253.47 312.25,254.62 313.80,256.10 C315.35,257.58 316.87,259.12 318.20,260.60 C319.53,262.08 320.98,263.53 321.80,265.00 C322.62,266.47 323.18,267.92 323.10,269.40 C323.02,270.88 322.27,272.42 321.30,273.90 C320.33,275.38 318.70,276.83 317.30,278.30 C315.90,279.77 314.15,281.33 312.90,282.70 C311.65,284.07 310.32,285.87 309.80,286.50 L300.80,286.50 C300.28,285.87 298.95,284.07 297.70,282.70 C296.45,281.33 294.70,279.77 293.30,278.30 C291.90,276.83 290.27,275.38 289.30,273.90 C288.33,272.42 287.58,270.88 287.50,269.40 C287.42,267.92 287.98,266.47 288.80,265.00 C289.62,263.53 291.07,262.08 292.40,260.60 C293.73,259.12 295.25,257.58 296.80,256.10 C298.35,254.62 300.38,253.47 301.70,251.70 C303.02,249.93 304.15,246.78 304.70,245.50 C305.25,244.22 304.93,245.40 305.00,244.00 C305.07,242.60 305.08,238.25 305.10,237.10 Z" fill="#f9bc00" stroke="#6e5000" stroke-width="1.05" stroke-linejoin="round"/><linearGradient id="tg7" gradientUnits="userSpaceOnUse" x1="0" y1="225" x2="0" y2="230.7"><stop offset="0" stop-color="#2a3a2a"/><stop offset="1" stop-color="#555"/></linearGradient><line x1="245.1" y1="225" x2="245.1" y2="230.7" stroke="url(#tg7)" stroke-width="1.6"/><linearGradient id="tg8" gradientUnits="userSpaceOnUse" x1="0" y1="237.1" x2="0" y2="245"><stop offset="0" stop-color="#7a7a7a"/><stop offset="1" stop-color="#3a2a10"/></linearGradient><line x1="305.3" y1="237.1" x2="305.3" y2="245" stroke="url(#tg8)" stroke-width="1.6"/><circle cx="245.1" cy="202.9" r="0.85" fill="#0a3a0a"/><circle cx="245.1" cy="209.8" r="0.85" fill="#0a3a0a"/><circle cx="245.1" cy="217.7" r="0.85" fill="#0a3a0a"/><circle cx="305.3" cy="257" r="0.85" fill="#4a2800"/><circle cx="305.3" cy="264.6" r="0.85" fill="#4a2800"/><circle cx="305.3" cy="277" r="0.85" fill="#4a2800"/><text x="245.1" y="300.7" font-size="8.2" text-anchor="middle" font-weight="normal" fill="#474747" stroke="#474747" stroke-width="0.1" textLength="12.2" lengthAdjust="spacingAndGlyphs">LSL</text><text x="305.3" y="300.7" font-size="8.2" text-anchor="middle" font-weight="normal" fill="#474747" stroke="#474747" stroke-width="0.1" textLength="23.8" lengthAdjust="spacingAndGlyphs">G870S</text><text x="275.55" y="183.85" font-size="10" text-anchor="middle" font-weight="normal" fill="#474747" stroke="#474747" stroke-width="0.1" font-style="italic" textLength="15.2" lengthAdjust="spacingAndGlyphs">PLT</text><text x="304.5" y="187.75" font-size="8.6" fill="#474747" stroke="#474747" stroke-width="0.1" textLength="34.25" lengthAdjust="spacingAndGlyphs"><tspan font-style="italic">P</tspan> = .0016</text><text transform="translate(190.2,238.4) rotate(-90)" font-size="9" text-anchor="middle" fill="#474747" stroke="#474747" stroke-width="0.1" textLength="52" lengthAdjust="spacingAndGlyphs">Cells (× 10<tspan font-size="6.5" dy="-3.3">3</tspan><tspan dy="3.3">/µl)</tspan></text>
<line x1="386" y1="188.75" x2="386" y2="287.8" stroke="#333333" stroke-width="1.5"/><line x1="383.5" y1="287.0" x2="386" y2="287.0" stroke="#333333" stroke-width="0.9"/><text x="379.8" y="289.9" font-size="8.3" text-anchor="end" font-weight="normal" fill="#474747" stroke="#474747" stroke-width="0.1" textLength="19.0" lengthAdjust="spacingAndGlyphs">0.125</text><line x1="383.5" y1="266.3125" x2="386" y2="266.3125" stroke="#333333" stroke-width="0.9"/><text x="379.8" y="269.21" font-size="8.3" text-anchor="end" font-weight="normal" fill="#474747" stroke="#474747" stroke-width="0.1" textLength="14.85" lengthAdjust="spacingAndGlyphs">0.25</text><line x1="383.5" y1="245.625" x2="386" y2="245.625" stroke="#333333" stroke-width="0.9"/><text x="379.8" y="248.53" font-size="8.3" text-anchor="end" font-weight="normal" fill="#474747" stroke="#474747" stroke-width="0.1" textLength="10.7" lengthAdjust="spacingAndGlyphs">0.5</text><line x1="383.5" y1="224.9375" x2="386" y2="224.9375" stroke="#333333" stroke-width="0.9"/><text x="379.8" y="227.84" font-size="8.3" text-anchor="end" font-weight="normal" fill="#474747" stroke="#474747" stroke-width="0.1" textLength="4.15" lengthAdjust="spacingAndGlyphs">1</text><line x1="383.5" y1="204.25" x2="386" y2="204.25" stroke="#333333" stroke-width="0.9"/><text x="379.8" y="207.15" font-size="8.3" text-anchor="end" font-weight="normal" fill="#474747" stroke="#474747" stroke-width="0.1" textLength="4.15" lengthAdjust="spacingAndGlyphs">2</text><line x1="384.50" y1="284.04" x2="386" y2="284.04" stroke="#555" stroke-width="0.75"/><line x1="384.50" y1="281.09" x2="386" y2="281.09" stroke="#555" stroke-width="0.75"/><line x1="384.50" y1="278.13" x2="386" y2="278.13" stroke="#555" stroke-width="0.75"/><line x1="384.50" y1="275.18" x2="386" y2="275.18" stroke="#555" stroke-width="0.75"/><line x1="384.50" y1="272.22" x2="386" y2="272.22" stroke="#555" stroke-width="0.75"/><line x1="384.50" y1="269.27" x2="386" y2="269.27" stroke="#555" stroke-width="0.75"/><line x1="384.50" y1="263.36" x2="386" y2="263.36" stroke="#555" stroke-width="0.75"/><line x1="384.50" y1="260.40" x2="386" y2="260.40" stroke="#555" stroke-width="0.75"/><line x1="384.50" y1="257.45" x2="386" y2="257.45" stroke="#555" stroke-width="0.75"/><line x1="384.50" y1="254.49" x2="386" y2="254.49" stroke="#555" stroke-width="0.75"/><line x1="384.50" y1="251.54" x2="386" y2="251.54" stroke="#555" stroke-width="0.75"/><line x1="384.50" y1="248.58" x2="386" y2="248.58" stroke="#555" stroke-width="0.75"/><line x1="384.50" y1="242.67" x2="386" y2="242.67" stroke="#555" stroke-width="0.75"/><line x1="384.50" y1="239.71" x2="386" y2="239.71" stroke="#555" stroke-width="0.75"/><line x1="384.50" y1="236.76" x2="386" y2="236.76" stroke="#555" stroke-width="0.75"/><line x1="384.50" y1="233.80" x2="386" y2="233.80" stroke="#555" stroke-width="0.75"/><line x1="384.50" y1="230.85" x2="386" y2="230.85" stroke="#555" stroke-width="0.75"/><line x1="384.50" y1="227.89" x2="386" y2="227.89" stroke="#555" stroke-width="0.75"/><line x1="384.50" y1="221.98" x2="386" y2="221.98" stroke="#555" stroke-width="0.75"/><line x1="384.50" y1="219.03" x2="386" y2="219.03" stroke="#555" stroke-width="0.75"/><line x1="384.50" y1="216.07" x2="386" y2="216.07" stroke="#555" stroke-width="0.75"/><line x1="384.50" y1="213.12" x2="386" y2="213.12" stroke="#555" stroke-width="0.75"/><line x1="384.50" y1="210.16" x2="386" y2="210.16" stroke="#555" stroke-width="0.75"/><line x1="384.50" y1="207.21" x2="386" y2="207.21" stroke="#555" stroke-width="0.75"/><line x1="384.50" y1="201.29" x2="386" y2="201.29" stroke="#555" stroke-width="0.75"/><line x1="384.50" y1="198.34" x2="386" y2="198.34" stroke="#555" stroke-width="0.75"/><line x1="384.50" y1="195.38" x2="386" y2="195.38" stroke="#555" stroke-width="0.75"/><line x1="384.50" y1="192.43" x2="386" y2="192.43" stroke="#555" stroke-width="0.75"/><line x1="386" y1="287" x2="505.75" y2="287" stroke="#4e4b52" stroke-width="1.8"/><line x1="416.2" y1="287" x2="416.2" y2="290" stroke="#333333" stroke-width="0.9"/><line x1="476.3" y1="287" x2="476.3" y2="290" stroke="#333333" stroke-width="0.9"/><path d="M420.90,197.60 C422.12,198.42 425.92,200.97 428.20,202.50 C430.48,204.03 432.82,205.37 434.60,206.80 C436.38,208.23 437.97,209.82 438.90,211.10 C439.83,212.38 440.77,213.08 440.20,214.50 C439.63,215.92 437.43,218.03 435.50,219.60 C433.57,221.17 430.67,222.47 428.60,223.90 C426.53,225.33 424.67,226.77 423.10,228.20 C421.53,229.63 420.20,231.08 419.20,232.50 C418.20,233.92 417.53,235.45 417.10,236.70 C416.67,237.95 416.72,238.43 416.60,240.00 C416.48,241.57 416.43,245.08 416.40,246.10 L416.00,246.10 C415.97,245.08 415.92,241.57 415.80,240.00 C415.68,238.43 415.73,237.95 415.30,236.70 C414.87,235.45 414.20,233.92 413.20,232.50 C412.20,231.08 410.87,229.63 409.30,228.20 C407.73,226.77 405.87,225.33 403.80,223.90 C401.73,222.47 398.83,221.17 396.90,219.60 C394.97,218.03 392.77,215.92 392.20,214.50 C391.63,213.08 392.57,212.38 393.50,211.10 C394.43,209.82 396.02,208.23 397.80,206.80 C399.58,205.37 401.92,204.03 404.20,202.50 C406.48,200.97 410.28,198.42 411.50,197.60 Z" fill="#3aa637" stroke="#145214" stroke-width="1.05" stroke-linejoin="round"/><path d="M476.50,198.20 C476.53,199.82 476.63,205.78 476.70,207.90 C476.77,210.02 476.53,209.17 476.90,210.90 C477.27,212.63 478.08,215.82 478.90,218.30 C479.72,220.78 480.82,223.32 481.80,225.80 C482.78,228.28 483.80,230.73 484.80,233.20 C485.80,235.67 486.80,238.12 487.80,240.60 C488.80,243.08 489.82,245.12 490.80,248.10 C491.78,251.08 493.17,255.53 493.70,258.50 C494.23,261.47 494.12,263.17 494.00,265.90 C493.88,268.63 493.53,272.17 493.00,274.90 C492.47,277.63 491.42,280.32 490.80,282.30 C490.18,284.28 489.55,286.05 489.30,286.80 L463.30,286.80 C463.05,286.05 462.42,284.28 461.80,282.30 C461.18,280.32 460.13,277.63 459.60,274.90 C459.07,272.17 458.72,268.63 458.60,265.90 C458.48,263.17 458.37,261.47 458.90,258.50 C459.43,255.53 460.82,251.08 461.80,248.10 C462.78,245.12 463.80,243.08 464.80,240.60 C465.80,238.12 466.80,235.67 467.80,233.20 C468.80,230.73 469.82,228.28 470.80,225.80 C471.78,223.32 472.88,220.78 473.70,218.30 C474.52,215.82 475.33,212.63 475.70,210.90 C476.07,209.17 475.83,210.02 475.90,207.90 C475.97,205.78 476.07,199.82 476.10,198.20 Z" fill="#f9bc00" stroke="#6e5000" stroke-width="1.05" stroke-linejoin="round"/><linearGradient id="tg9" gradientUnits="userSpaceOnUse" x1="0" y1="238.5" x2="0" y2="246.1"><stop offset="0" stop-color="#333"/><stop offset="1" stop-color="#777"/></linearGradient><line x1="416.2" y1="238.5" x2="416.2" y2="246.1" stroke="url(#tg9)" stroke-width="1.6"/><linearGradient id="tg10" gradientUnits="userSpaceOnUse" x1="0" y1="198.2" x2="0" y2="208"><stop offset="0" stop-color="#333"/><stop offset="1" stop-color="#444"/></linearGradient><line x1="476.3" y1="198.2" x2="476.3" y2="208" stroke="url(#tg10)" stroke-width="1.6"/><circle cx="416.2" cy="201.7" r="0.85" fill="#0a3a0a"/><circle cx="416.2" cy="206" r="0.85" fill="#0a3a0a"/><circle cx="416.2" cy="217.1" r="0.85" fill="#0a3a0a"/><circle cx="416.2" cy="221.8" r="0.85" fill="#0a3a0a"/><circle cx="476.3" cy="224.3" r="0.85" fill="#4a2800"/><circle cx="476.3" cy="245.9" r="0.85" fill="#4a2800"/><circle cx="476.3" cy="273.4" r="0.85" fill="#4a2800"/><text x="416.2" y="300.7" font-size="8.2" text-anchor="middle" font-weight="normal" fill="#474747" stroke="#474747" stroke-width="0.1" textLength="12.2" lengthAdjust="spacingAndGlyphs">LSL</text><text x="476.3" y="300.7" font-size="8.2" text-anchor="middle" font-weight="normal" fill="#474747" stroke="#474747" stroke-width="0.1" textLength="23.8" lengthAdjust="spacingAndGlyphs">G870S</text><text x="446.3" y="183.85" font-size="10" text-anchor="middle" font-weight="normal" fill="#474747" stroke="#474747" stroke-width="0.1" font-style="italic" textLength="22" lengthAdjust="spacingAndGlyphs">WBC</text><text x="476.9" y="187.75" font-size="8.6" fill="#474747" stroke="#474747" stroke-width="0.1" textLength="33.80" lengthAdjust="spacingAndGlyphs"><tspan font-style="italic">P</tspan> = .0324</text><text transform="translate(355.2,238) rotate(-90)" font-size="9" text-anchor="middle" fill="#474747" stroke="#474747" stroke-width="0.1" textLength="52" lengthAdjust="spacingAndGlyphs">Cells (× 10<tspan font-size="6.5" dy="-3.3">3</tspan><tspan dy="3.3">/µl)</tspan></text>
<line x1="40.5" y1="343.75" x2="40.5" y2="442.8" stroke="#333333" stroke-width="1.5"/><line x1="38.0" y1="442" x2="40.5" y2="442" stroke="#333333" stroke-width="0.9"/><text x="35.5" y="444.9" font-size="8.3" text-anchor="end" font-weight="normal" fill="#474747" stroke="#474747" stroke-width="0.1" textLength="4.15" lengthAdjust="spacingAndGlyphs">1</text><line x1="38.0" y1="417.2" x2="40.5" y2="417.2" stroke="#333333" stroke-width="0.9"/><text x="35.5" y="420.1" font-size="8.3" text-anchor="end" font-weight="normal" fill="#474747" stroke="#474747" stroke-width="0.1" textLength="4.15" lengthAdjust="spacingAndGlyphs">2</text><line x1="38.0" y1="392" x2="40.5" y2="392" stroke="#333333" stroke-width="0.9"/><text x="35.5" y="394.9" font-size="8.3" text-anchor="end" font-weight="normal" fill="#474747" stroke="#474747" stroke-width="0.1" textLength="4.15" lengthAdjust="spacingAndGlyphs">4</text><line x1="38.0" y1="366.9" x2="40.5" y2="366.9" stroke="#333333" stroke-width="0.9"/><text x="35.5" y="369.8" font-size="8.3" text-anchor="end" font-weight="normal" fill="#474747" stroke="#474747" stroke-width="0.1" textLength="4.15" lengthAdjust="spacingAndGlyphs">8</text><line x1="39.00" y1="438.90" x2="40.5" y2="438.90" stroke="#555" stroke-width="0.75"/><line x1="39.00" y1="435.80" x2="40.5" y2="435.80" stroke="#555" stroke-width="0.75"/><line x1="39.00" y1="432.70" x2="40.5" y2="432.70" stroke="#555" stroke-width="0.75"/><line x1="39.00" y1="429.60" x2="40.5" y2="429.60" stroke="#555" stroke-width="0.75"/><line x1="39.00" y1="426.50" x2="40.5" y2="426.50" stroke="#555" stroke-width="0.75"/><line x1="39.00" y1="423.40" x2="40.5" y2="423.40" stroke="#555" stroke-width="0.75"/><line x1="39.00" y1="420.30" x2="40.5" y2="420.30" stroke="#555" stroke-width="0.75"/><line x1="39.00" y1="414.10" x2="40.5" y2="414.10" stroke="#555" stroke-width="0.75"/><line x1="39.00" y1="411.00" x2="40.5" y2="411.00" stroke="#555" stroke-width="0.75"/><line x1="39.00" y1="407.90" x2="40.5" y2="407.90" stroke="#555" stroke-width="0.75"/><line x1="39.00" y1="404.80" x2="40.5" y2="404.80" stroke="#555" stroke-width="0.75"/><line x1="39.00" y1="401.70" x2="40.5" y2="401.70" stroke="#555" stroke-width="0.75"/><line x1="39.00" y1="398.60" x2="40.5" y2="398.60" stroke="#555" stroke-width="0.75"/><line x1="39.00" y1="395.50" x2="40.5" y2="395.50" stroke="#555" stroke-width="0.75"/><line x1="39.00" y1="389.30" x2="40.5" y2="389.30" stroke="#555" stroke-width="0.75"/><line x1="39.00" y1="386.20" x2="40.5" y2="386.20" stroke="#555" stroke-width="0.75"/><line x1="39.00" y1="383.10" x2="40.5" y2="383.10" stroke="#555" stroke-width="0.75"/><line x1="39.00" y1="380.00" x2="40.5" y2="380.00" stroke="#555" stroke-width="0.75"/><line x1="39.00" y1="376.90" x2="40.5" y2="376.90" stroke="#555" stroke-width="0.75"/><line x1="39.00" y1="373.80" x2="40.5" y2="373.80" stroke="#555" stroke-width="0.75"/><line x1="39.00" y1="370.70" x2="40.5" y2="370.70" stroke="#555" stroke-width="0.75"/><line x1="39.00" y1="364.50" x2="40.5" y2="364.50" stroke="#555" stroke-width="0.75"/><line x1="39.00" y1="361.40" x2="40.5" y2="361.40" stroke="#555" stroke-width="0.75"/><line x1="39.00" y1="358.30" x2="40.5" y2="358.30" stroke="#555" stroke-width="0.75"/><line x1="39.00" y1="355.20" x2="40.5" y2="355.20" stroke="#555" stroke-width="0.75"/><line x1="39.00" y1="352.10" x2="40.5" y2="352.10" stroke="#555" stroke-width="0.75"/><line x1="39.00" y1="349.00" x2="40.5" y2="349.00" stroke="#555" stroke-width="0.75"/><line x1="39.00" y1="345.90" x2="40.5" y2="345.90" stroke="#555" stroke-width="0.75"/><line x1="40.5" y1="442" x2="161.25" y2="442" stroke="#4e4b52" stroke-width="1.8"/><line x1="70.5" y1="442" x2="70.5" y2="445" stroke="#333333" stroke-width="0.9"/><line x1="130.8" y1="442" x2="130.8" y2="445" stroke="#333333" stroke-width="0.9"/><path d="M70.70,352.60 C71.03,352.77 71.53,353.10 72.70,353.60 C73.87,354.10 75.45,354.88 77.70,355.60 C79.95,356.32 83.47,357.10 86.20,357.90 C88.93,358.70 94.10,359.57 94.10,360.40 C94.10,361.23 88.93,362.15 86.20,362.90 C83.47,363.65 79.95,364.13 77.70,364.90 C75.45,365.67 73.87,366.68 72.70,367.50 C71.53,368.32 71.03,369.42 70.70,369.80 L70.30,369.80 C69.97,369.42 69.47,368.32 68.30,367.50 C67.13,366.68 65.55,365.67 63.30,364.90 C61.05,364.13 57.53,363.65 54.80,362.90 C52.07,362.15 46.90,361.23 46.90,360.40 C46.90,359.57 52.07,358.70 54.80,357.90 C57.53,357.10 61.05,356.32 63.30,355.60 C65.55,354.88 67.13,354.10 68.30,353.60 C69.47,353.10 69.97,352.77 70.30,352.60 Z" fill="#3aa637" stroke="#145214" stroke-width="1.05" stroke-linejoin="round"/><path d="M132.40,352.30 C132.47,353.48 132.18,356.32 132.80,359.40 C133.42,362.48 134.50,367.00 136.10,370.80 C137.70,374.60 140.68,378.97 142.40,382.20 C144.12,385.43 145.37,387.35 146.40,390.20 C147.43,393.05 148.23,396.83 148.60,399.30 C148.97,401.77 148.78,402.90 148.60,405.00 C148.42,407.10 147.97,409.87 147.50,411.90 C147.03,413.93 146.08,416.32 145.80,417.20 L115.80,417.20 C115.52,416.32 114.57,413.93 114.10,411.90 C113.63,409.87 113.18,407.10 113.00,405.00 C112.82,402.90 112.63,401.77 113.00,399.30 C113.37,396.83 114.17,393.05 115.20,390.20 C116.23,387.35 117.48,385.43 119.20,382.20 C120.92,378.97 123.90,374.60 125.50,370.80 C127.10,367.00 128.18,362.48 128.80,359.40 C129.42,356.32 129.13,353.48 129.20,352.30 Z" fill="#f9bc00" stroke="#6e5000" stroke-width="1.05" stroke-linejoin="round"/><circle cx="70.5" cy="357.5" r="0.85" fill="#0a3a0a"/><circle cx="70.5" cy="360.4" r="0.85" fill="#0a3a0a"/><circle cx="70.5" cy="365" r="0.85" fill="#0a3a0a"/><circle cx="130.8" cy="362.8" r="0.85" fill="#4a2800"/><circle cx="130.8" cy="397.6" r="0.85" fill="#4a2800"/><circle cx="130.8" cy="405.6" r="0.85" fill="#4a2800"/><text x="70.5" y="455.7" font-size="8.2" text-anchor="middle" font-weight="normal" fill="#474747" stroke="#474747" stroke-width="0.1" textLength="12.2" lengthAdjust="spacingAndGlyphs">LSL</text><text x="130.8" y="455.7" font-size="8.2" text-anchor="middle" font-weight="normal" fill="#474747" stroke="#474747" stroke-width="0.1" textLength="23.8" lengthAdjust="spacingAndGlyphs">G870S</text><text x="100.8" y="338.85" font-size="10" text-anchor="middle" font-weight="normal" fill="#474747" stroke="#474747" stroke-width="0.1" font-style="italic" textLength="18.2" lengthAdjust="spacingAndGlyphs">RBC</text><text x="130.5" y="342.75" font-size="8.6" fill="#474747" stroke="#474747" stroke-width="0.1" textLength="33.75" lengthAdjust="spacingAndGlyphs"><tspan font-style="italic">P</tspan> = .0432</text><text transform="translate(24.2,394) rotate(-90)" font-size="9" text-anchor="middle" fill="#474747" stroke="#474747" stroke-width="0.1" textLength="52" lengthAdjust="spacingAndGlyphs">Cells (× 10<tspan font-size="6.5" dy="-3.3">6</tspan><tspan dy="3.3">/µl)</tspan></text>
<line x1="215.25" y1="343.75" x2="215.25" y2="442.8" stroke="#333333" stroke-width="1.5"/><line x1="212.75" y1="442.0" x2="215.25" y2="442.0" stroke="#333333" stroke-width="0.9"/><text x="209.5" y="444.9" font-size="8.3" text-anchor="end" font-weight="normal" fill="#474747" stroke="#474747" stroke-width="0.1" textLength="8.3" lengthAdjust="spacingAndGlyphs">64</text><line x1="212.75" y1="420.375" x2="215.25" y2="420.375" stroke="#333333" stroke-width="0.9"/><text x="209.5" y="423.27" font-size="8.3" text-anchor="end" font-weight="normal" fill="#474747" stroke="#474747" stroke-width="0.1" textLength="12.45" lengthAdjust="spacingAndGlyphs">128</text><line x1="212.75" y1="398.75" x2="215.25" y2="398.75" stroke="#333333" stroke-width="0.9"/><text x="209.5" y="401.65" font-size="8.3" text-anchor="end" font-weight="normal" fill="#474747" stroke="#474747" stroke-width="0.1" textLength="12.45" lengthAdjust="spacingAndGlyphs">256</text><line x1="212.75" y1="377.125" x2="215.25" y2="377.125" stroke="#333333" stroke-width="0.9"/><text x="209.5" y="380.02" font-size="8.3" text-anchor="end" font-weight="normal" fill="#474747" stroke="#474747" stroke-width="0.1" textLength="12.45" lengthAdjust="spacingAndGlyphs">512</text><line x1="212.75" y1="355.5" x2="215.25" y2="355.5" stroke="#333333" stroke-width="0.9"/><text x="209.5" y="358.4" font-size="8.3" text-anchor="end" font-weight="normal" fill="#474747" stroke="#474747" stroke-width="0.1" textLength="16.6" lengthAdjust="spacingAndGlyphs">1024</text><line x1="213.75" y1="438.91" x2="215.25" y2="438.91" stroke="#555" stroke-width="0.75"/><line x1="213.75" y1="435.82" x2="215.25" y2="435.82" stroke="#555" stroke-width="0.75"/><line x1="213.75" y1="432.73" x2="215.25" y2="432.73" stroke="#555" stroke-width="0.75"/><line x1="213.75" y1="429.64" x2="215.25" y2="429.64" stroke="#555" stroke-width="0.75"/><line x1="213.75" y1="426.55" x2="215.25" y2="426.55" stroke="#555" stroke-width="0.75"/><line x1="213.75" y1="423.46" x2="215.25" y2="423.46" stroke="#555" stroke-width="0.75"/><line x1="213.75" y1="417.29" x2="215.25" y2="417.29" stroke="#555" stroke-width="0.75"/><line x1="213.75" y1="414.20" x2="215.25" y2="414.20" stroke="#555" stroke-width="0.75"/><line x1="213.75" y1="411.11" x2="215.25" y2="411.11" stroke="#555" stroke-width="0.75"/><line x1="213.75" y1="408.02" x2="215.25" y2="408.02" stroke="#555" stroke-width="0.75"/><line x1="213.75" y1="404.93" x2="215.25" y2="404.93" stroke="#555" stroke-width="0.75"/><line x1="213.75" y1="401.84" x2="215.25" y2="401.84" stroke="#555" stroke-width="0.75"/><line x1="213.75" y1="395.66" x2="215.25" y2="395.66" stroke="#555" stroke-width="0.75"/><line x1="213.75" y1="392.57" x2="215.25" y2="392.57" stroke="#555" stroke-width="0.75"/><line x1="213.75" y1="389.48" x2="215.25" y2="389.48" stroke="#555" stroke-width="0.75"/><line x1="213.75" y1="386.39" x2="215.25" y2="386.39" stroke="#555" stroke-width="0.75"/><line x1="213.75" y1="383.30" x2="215.25" y2="383.30" stroke="#555" stroke-width="0.75"/><line x1="213.75" y1="380.21" x2="215.25" y2="380.21" stroke="#555" stroke-width="0.75"/><line x1="213.75" y1="374.04" x2="215.25" y2="374.04" stroke="#555" stroke-width="0.75"/><line x1="213.75" y1="370.95" x2="215.25" y2="370.95" stroke="#555" stroke-width="0.75"/><line x1="213.75" y1="367.86" x2="215.25" y2="367.86" stroke="#555" stroke-width="0.75"/><line x1="213.75" y1="364.77" x2="215.25" y2="364.77" stroke="#555" stroke-width="0.75"/><line x1="213.75" y1="361.68" x2="215.25" y2="361.68" stroke="#555" stroke-width="0.75"/><line x1="213.75" y1="358.59" x2="215.25" y2="358.59" stroke="#555" stroke-width="0.75"/><line x1="213.75" y1="352.41" x2="215.25" y2="352.41" stroke="#555" stroke-width="0.75"/><line x1="213.75" y1="349.32" x2="215.25" y2="349.32" stroke="#555" stroke-width="0.75"/><line x1="213.75" y1="346.23" x2="215.25" y2="346.23" stroke="#555" stroke-width="0.75"/><line x1="215.25" y1="442" x2="335" y2="442" stroke="#4e4b52" stroke-width="1.8"/><line x1="244.9" y1="442" x2="244.9" y2="445" stroke="#333333" stroke-width="0.9"/><line x1="305.1" y1="442" x2="305.1" y2="445" stroke="#333333" stroke-width="0.9"/><path d="M248.30,356.40 C248.77,357.25 249.57,359.60 251.10,361.50 C252.63,363.40 255.38,365.68 257.50,367.80 C259.62,369.92 262.07,372.08 263.80,374.20 C265.53,376.32 267.05,378.65 267.90,380.50 C268.75,382.35 268.95,383.72 268.90,385.30 C268.85,386.88 268.70,388.38 267.60,390.00 C266.50,391.62 264.45,393.02 262.30,395.00 C260.15,396.98 257.02,399.58 254.70,401.90 C252.38,404.22 249.93,406.80 248.40,408.90 C246.87,411.00 246.05,411.32 245.50,414.50 C244.95,417.68 245.17,425.75 245.10,428.00 L244.70,428.00 C244.63,425.75 244.85,417.68 244.30,414.50 C243.75,411.32 242.93,411.00 241.40,408.90 C239.87,406.80 237.42,404.22 235.10,401.90 C232.78,399.58 229.65,396.98 227.50,395.00 C225.35,393.02 223.30,391.62 222.20,390.00 C221.10,388.38 220.95,386.88 220.90,385.30 C220.85,383.72 221.05,382.35 221.90,380.50 C222.75,378.65 224.27,376.32 226.00,374.20 C227.73,372.08 230.18,369.92 232.30,367.80 C234.42,365.68 237.17,363.40 238.70,361.50 C240.23,359.60 241.03,357.25 241.50,356.40 Z" fill="#3aa637" stroke="#145214" stroke-width="1.05" stroke-linejoin="round"/><path d="M305.30,356.60 C305.33,358.35 305.43,365.10 305.50,367.10 C305.57,369.10 305.47,367.15 305.70,368.60 C305.93,370.05 306.33,373.38 306.90,375.80 C307.47,378.22 308.25,380.67 309.10,383.10 C309.95,385.53 311.03,387.97 312.00,390.40 C312.97,392.83 313.82,395.28 314.90,397.70 C315.98,400.12 317.42,402.48 318.50,404.90 C319.58,407.32 320.67,409.77 321.40,412.20 C322.13,414.63 322.65,417.07 322.90,419.50 C323.15,421.93 323.02,424.37 322.90,426.80 C322.78,429.23 322.47,431.60 322.20,434.10 C321.93,436.60 321.45,440.52 321.30,441.80 L288.90,441.80 C288.75,440.52 288.27,436.60 288.00,434.10 C287.73,431.60 287.42,429.23 287.30,426.80 C287.18,424.37 287.05,421.93 287.30,419.50 C287.55,417.07 288.07,414.63 288.80,412.20 C289.53,409.77 290.62,407.32 291.70,404.90 C292.78,402.48 294.22,400.12 295.30,397.70 C296.38,395.28 297.23,392.83 298.20,390.40 C299.17,387.97 300.25,385.53 301.10,383.10 C301.95,380.67 302.73,378.22 303.30,375.80 C303.87,373.38 304.27,370.05 304.50,368.60 C304.73,367.15 304.63,369.10 304.70,367.10 C304.77,365.10 304.87,358.35 304.90,356.60 Z" fill="#f9bc00" stroke="#6e5000" stroke-width="1.05" stroke-linejoin="round"/><linearGradient id="tg11" gradientUnits="userSpaceOnUse" x1="0" y1="413" x2="0" y2="428"><stop offset="0" stop-color="#3a4a3a"/><stop offset="1" stop-color="#a0a0a0"/></linearGradient><line x1="244.9" y1="413" x2="244.9" y2="428" stroke="url(#tg11)" stroke-width="1.6"/><linearGradient id="tg12" gradientUnits="userSpaceOnUse" x1="0" y1="356.6" x2="0" y2="367.5"><stop offset="0" stop-color="#333"/><stop offset="1" stop-color="#5a4a20"/></linearGradient><line x1="305.1" y1="356.6" x2="305.1" y2="367.5" stroke="url(#tg12)" stroke-width="1.6"/><circle cx="244.9" cy="362.4" r="0.85" fill="#0a3a0a"/><circle cx="244.9" cy="375.1" r="0.85" fill="#0a3a0a"/><circle cx="244.9" cy="379.5" r="0.85" fill="#0a3a0a"/><circle cx="244.9" cy="395" r="0.85" fill="#0a3a0a"/><circle cx="305.1" cy="379.9" r="0.85" fill="#4a2800"/><circle cx="305.1" cy="413" r="0.85" fill="#4a2800"/><circle cx="305.1" cy="428.2" r="0.85" fill="#4a2800"/><text x="244.9" y="455.7" font-size="8.2" text-anchor="middle" font-weight="normal" fill="#474747" stroke="#474747" stroke-width="0.1" textLength="12.2" lengthAdjust="spacingAndGlyphs">LSL</text><text x="305.1" y="455.7" font-size="8.2" text-anchor="middle" font-weight="normal" fill="#474747" stroke="#474747" stroke-width="0.1" textLength="23.8" lengthAdjust="spacingAndGlyphs">G870S</text><text x="275.55" y="338.85" font-size="10" text-anchor="middle" font-weight="normal" fill="#474747" stroke="#474747" stroke-width="0.1" font-style="italic" textLength="15.2" lengthAdjust="spacingAndGlyphs">PLT</text><text x="304.5" y="342.75" font-size="8.6" fill="#474747" stroke="#474747" stroke-width="0.1" textLength="34.25" lengthAdjust="spacingAndGlyphs"><tspan font-style="italic">P</tspan> = .1364</text><text transform="translate(185.6,394) rotate(-90)" font-size="9" text-anchor="middle" fill="#474747" stroke="#474747" stroke-width="0.1" textLength="52" lengthAdjust="spacingAndGlyphs">Cells (× 10<tspan font-size="6.5" dy="-3.3">3</tspan><tspan dy="3.3">/µl)</tspan></text>
<line x1="386" y1="343.75" x2="386" y2="442.8" stroke="#333333" stroke-width="1.5"/><line x1="383.5" y1="442.0" x2="386" y2="442.0" stroke="#333333" stroke-width="0.9"/><text x="379.8" y="444.9" font-size="8.3" text-anchor="end" font-weight="normal" fill="#474747" stroke="#474747" stroke-width="0.1" textLength="4.15" lengthAdjust="spacingAndGlyphs">1</text><line x1="383.5" y1="429.0357142857143" x2="386" y2="429.0357142857143" stroke="#333333" stroke-width="0.9"/><text x="379.8" y="431.94" font-size="8.3" text-anchor="end" font-weight="normal" fill="#474747" stroke="#474747" stroke-width="0.1" textLength="4.15" lengthAdjust="spacingAndGlyphs">2</text><line x1="383.5" y1="416.07142857142856" x2="386" y2="416.07142857142856" stroke="#333333" stroke-width="0.9"/><text x="379.8" y="418.97" font-size="8.3" text-anchor="end" font-weight="normal" fill="#474747" stroke="#474747" stroke-width="0.1" textLength="4.15" lengthAdjust="spacingAndGlyphs">4</text><line x1="383.5" y1="403.10714285714283" x2="386" y2="403.10714285714283" stroke="#333333" stroke-width="0.9"/><text x="379.8" y="406.01" font-size="8.3" text-anchor="end" font-weight="normal" fill="#474747" stroke="#474747" stroke-width="0.1" textLength="4.15" lengthAdjust="spacingAndGlyphs">8</text><line x1="383.5" y1="390.14285714285717" x2="386" y2="390.14285714285717" stroke="#333333" stroke-width="0.9"/><text x="379.8" y="393.04" font-size="8.3" text-anchor="end" font-weight="normal" fill="#474747" stroke="#474747" stroke-width="0.1" textLength="8.3" lengthAdjust="spacingAndGlyphs">16</text><line x1="383.5" y1="377.17857142857144" x2="386" y2="377.17857142857144" stroke="#333333" stroke-width="0.9"/><text x="379.8" y="380.08" font-size="8.3" text-anchor="end" font-weight="normal" fill="#474747" stroke="#474747" stroke-width="0.1" textLength="8.3" lengthAdjust="spacingAndGlyphs">32</text><line x1="383.5" y1="364.2142857142857" x2="386" y2="364.2142857142857" stroke="#333333" stroke-width="0.9"/><text x="379.8" y="367.11" font-size="8.3" text-anchor="end" font-weight="normal" fill="#474747" stroke="#474747" stroke-width="0.1" textLength="8.3" lengthAdjust="spacingAndGlyphs">64</text><line x1="383.5" y1="351.25" x2="386" y2="351.25" stroke="#333333" stroke-width="0.9"/><text x="379.8" y="354.15" font-size="8.3" text-anchor="end" font-weight="normal" fill="#474747" stroke="#474747" stroke-width="0.1" textLength="12.45" lengthAdjust="spacingAndGlyphs">128</text><line x1="384.50" y1="438.76" x2="386" y2="438.76" stroke="#555" stroke-width="0.75"/><line x1="384.50" y1="435.52" x2="386" y2="435.52" stroke="#555" stroke-width="0.75"/><line x1="384.50" y1="432.28" x2="386" y2="432.28" stroke="#555" stroke-width="0.75"/><line x1="384.50" y1="425.79" x2="386" y2="425.79" stroke="#555" stroke-width="0.75"/><line x1="384.50" y1="422.55" x2="386" y2="422.55" stroke="#555" stroke-width="0.75"/><line x1="384.50" y1="419.31" x2="386" y2="419.31" stroke="#555" stroke-width="0.75"/><line x1="384.50" y1="412.83" x2="386" y2="412.83" stroke="#555" stroke-width="0.75"/><line x1="384.50" y1="409.59" x2="386" y2="409.59" stroke="#555" stroke-width="0.75"/><line x1="384.50" y1="406.35" x2="386" y2="406.35" stroke="#555" stroke-width="0.75"/><line x1="384.50" y1="399.87" x2="386" y2="399.87" stroke="#555" stroke-width="0.75"/><line x1="384.50" y1="396.62" x2="386" y2="396.62" stroke="#555" stroke-width="0.75"/><line x1="384.50" y1="393.38" x2="386" y2="393.38" stroke="#555" stroke-width="0.75"/><line x1="384.50" y1="386.90" x2="386" y2="386.90" stroke="#555" stroke-width="0.75"/><line x1="384.50" y1="383.66" x2="386" y2="383.66" stroke="#555" stroke-width="0.75"/><line x1="384.50" y1="380.42" x2="386" y2="380.42" stroke="#555" stroke-width="0.75"/><line x1="384.50" y1="373.94" x2="386" y2="373.94" stroke="#555" stroke-width="0.75"/><line x1="384.50" y1="370.70" x2="386" y2="370.70" stroke="#555" stroke-width="0.75"/><line x1="384.50" y1="367.46" x2="386" y2="367.46" stroke="#555" stroke-width="0.75"/><line x1="384.50" y1="360.97" x2="386" y2="360.97" stroke="#555" stroke-width="0.75"/><line x1="384.50" y1="357.73" x2="386" y2="357.73" stroke="#555" stroke-width="0.75"/><line x1="384.50" y1="354.49" x2="386" y2="354.49" stroke="#555" stroke-width="0.75"/><line x1="384.50" y1="348.01" x2="386" y2="348.01" stroke="#555" stroke-width="0.75"/><line x1="384.50" y1="344.77" x2="386" y2="344.77" stroke="#555" stroke-width="0.75"/><line x1="386" y1="442" x2="505.75" y2="442" stroke="#4e4b52" stroke-width="1.8"/><line x1="416.2" y1="442" x2="416.2" y2="445" stroke="#333333" stroke-width="0.9"/><line x1="475.75" y1="442" x2="475.75" y2="445" stroke="#333333" stroke-width="0.9"/><path d="M416.40,387.30 C416.43,388.33 416.52,392.00 416.60,393.50 C416.68,395.00 416.13,395.03 416.90,396.30 C417.67,397.57 419.37,399.52 421.20,401.10 C423.03,402.68 425.68,404.22 427.90,405.80 C430.12,407.38 432.68,409.02 434.50,410.60 C436.32,412.18 437.88,413.88 438.80,415.30 C439.72,416.72 440.40,417.67 440.00,419.10 C439.60,420.53 438.10,422.32 436.40,423.90 C434.70,425.48 432.02,427.02 429.80,428.60 C427.58,430.18 424.93,431.82 423.10,433.40 C421.27,434.98 419.83,436.75 418.80,438.10 C417.77,439.45 417.22,440.93 416.90,441.50 L415.50,441.50 C415.18,440.93 414.63,439.45 413.60,438.10 C412.57,436.75 411.13,434.98 409.30,433.40 C407.47,431.82 404.82,430.18 402.60,428.60 C400.38,427.02 397.70,425.48 396.00,423.90 C394.30,422.32 392.80,420.53 392.40,419.10 C392.00,417.67 392.68,416.72 393.60,415.30 C394.52,413.88 396.08,412.18 397.90,410.60 C399.72,409.02 402.28,407.38 404.50,405.80 C406.72,404.22 409.37,402.68 411.20,401.10 C413.03,399.52 414.73,397.57 415.50,396.30 C416.27,395.03 415.72,395.00 415.80,393.50 C415.88,392.00 415.97,388.33 416.00,387.30 Z" fill="#3aa637" stroke="#145214" stroke-width="1.05" stroke-linejoin="round"/><path d="M477.75,352.80 C477.92,352.88 477.75,353.00 478.75,353.30 C479.75,353.60 482.08,354.15 483.75,354.60 C485.42,355.05 487.20,355.48 488.75,356.00 C490.30,356.52 493.05,357.25 493.05,357.75 C493.05,358.25 490.30,358.56 488.75,359.00 C487.20,359.44 485.42,359.88 483.75,360.40 C482.08,360.92 480.05,361.47 478.75,362.10 C477.45,362.73 476.42,363.85 475.95,364.20 L475.55,364.20 C475.08,363.85 474.05,362.73 472.75,362.10 C471.45,361.47 469.42,360.92 467.75,360.40 C466.08,359.88 464.30,359.44 462.75,359.00 C461.20,358.56 458.45,358.25 458.45,357.75 C458.45,357.25 461.20,356.52 462.75,356.00 C464.30,355.48 466.08,355.05 467.75,354.60 C469.42,354.15 471.75,353.60 472.75,353.30 C473.75,353.00 473.58,352.88 473.75,352.80 Z" fill="#f9bc00" stroke="#6e5000" stroke-width="1.05" stroke-linejoin="round"/><linearGradient id="tg13" gradientUnits="userSpaceOnUse" x1="0" y1="387.3" x2="0" y2="394"><stop offset="0" stop-color="#444"/><stop offset="1" stop-color="#333"/></linearGradient><line x1="416.2" y1="387.3" x2="416.2" y2="394" stroke="url(#tg13)" stroke-width="1.6"/><circle cx="416.2" cy="406.3" r="0.85" fill="#0a3a0a"/><circle cx="416.2" cy="417.7" r="0.85" fill="#0a3a0a"/><circle cx="416.2" cy="426.7" r="0.85" fill="#0a3a0a"/><circle cx="475.75" cy="354.5" r="0.85" fill="#4a2800"/><circle cx="475.75" cy="358.5" r="0.85" fill="#4a2800"/><text x="416.2" y="455.7" font-size="8.2" text-anchor="middle" font-weight="normal" fill="#474747" stroke="#474747" stroke-width="0.1" textLength="12.2" lengthAdjust="spacingAndGlyphs">LSL</text><text x="475.75" y="455.7" font-size="8.2" text-anchor="middle" font-weight="normal" fill="#474747" stroke="#474747" stroke-width="0.1" textLength="23.8" lengthAdjust="spacingAndGlyphs">G870S</text><text x="446.3" y="338.85" font-size="10" text-anchor="middle" font-weight="normal" fill="#474747" stroke="#474747" stroke-width="0.1" font-style="italic" textLength="22" lengthAdjust="spacingAndGlyphs">WBC</text><text x="479.8" y="342.75" font-size="8.6" fill="#474747" stroke="#474747" stroke-width="0.1" textLength="32.30" lengthAdjust="spacingAndGlyphs"><tspan font-style="italic">P</tspan> &lt; .0001</text><text transform="translate(360.4,394) rotate(-90)" font-size="9" text-anchor="middle" fill="#474747" stroke="#474747" stroke-width="0.1" textLength="52" lengthAdjust="spacingAndGlyphs">Cells (× 10<tspan font-size="6.5" dy="-3.3">3</tspan><tspan dy="3.3">/µl)</tspan></text>
<line x1="194.6" y1="489.5" x2="194.6" y2="597.5" stroke="#333333" stroke-width="1.1"/>
<line x1="194.6" y1="596.9" x2="359" y2="596.9" stroke="#333333" stroke-width="1.2"/>
<line x1="191.6" y1="596.90" x2="194.6" y2="596.90" stroke="#333333" stroke-width="0.9"/>
<text x="188.6" y="599.9" font-size="8.8" text-anchor="end" font-weight="normal" fill="#474747" stroke="#474747" stroke-width="0.1" textLength="11.4" lengthAdjust="spacingAndGlyphs">0.0</text>
<line x1="193.1" y1="586.70" x2="194.6" y2="586.70" stroke="#333333" stroke-width="0.9"/>
<line x1="191.6" y1="576.50" x2="194.6" y2="576.50" stroke="#333333" stroke-width="0.9"/>
<text x="188.6" y="579.5" font-size="8.8" text-anchor="end" font-weight="normal" fill="#474747" stroke="#474747" stroke-width="0.1" textLength="11.4" lengthAdjust="spacingAndGlyphs">0.2</text>
<line x1="193.1" y1="566.30" x2="194.6" y2="566.30" stroke="#333333" stroke-width="0.9"/>
<line x1="191.6" y1="556.10" x2="194.6" y2="556.10" stroke="#333333" stroke-width="0.9"/>
<text x="188.6" y="559.1" font-size="8.8" text-anchor="end" font-weight="normal" fill="#474747" stroke="#474747" stroke-width="0.1" textLength="11.4" lengthAdjust="spacingAndGlyphs">0.4</text>
<line x1="193.1" y1="545.90" x2="194.6" y2="545.90" stroke="#333333" stroke-width="0.9"/>
<line x1="191.6" y1="535.70" x2="194.6" y2="535.70" stroke="#333333" stroke-width="0.9"/>
<text x="188.6" y="538.7" font-size="8.8" text-anchor="end" font-weight="normal" fill="#474747" stroke="#474747" stroke-width="0.1" textLength="11.4" lengthAdjust="spacingAndGlyphs">0.6</text>
<line x1="193.1" y1="525.50" x2="194.6" y2="525.50" stroke="#333333" stroke-width="0.9"/>
<line x1="191.6" y1="515.30" x2="194.6" y2="515.30" stroke="#333333" stroke-width="0.9"/>
<text x="188.6" y="518.3" font-size="8.8" text-anchor="end" font-weight="normal" fill="#474747" stroke="#474747" stroke-width="0.1" textLength="11.4" lengthAdjust="spacingAndGlyphs">0.8</text>
<line x1="193.1" y1="505.10" x2="194.6" y2="505.10" stroke="#333333" stroke-width="0.9"/>
<line x1="191.6" y1="494.90" x2="194.6" y2="494.90" stroke="#333333" stroke-width="0.9"/>
<text x="188.6" y="497.9" font-size="8.8" text-anchor="end" font-weight="normal" fill="#474747" stroke="#474747" stroke-width="0.1" textLength="11.4" lengthAdjust="spacingAndGlyphs">1.0</text>
<line x1="194.60" y1="596.9" x2="194.60" y2="599.9" stroke="#333333" stroke-width="0.9"/>
<text x="194.6" y="610.0" font-size="8.6" text-anchor="middle" font-weight="normal" fill="#474747" stroke="#474747" stroke-width="0.1" textLength="4.5" lengthAdjust="spacingAndGlyphs">0</text>
<line x1="210.76" y1="596.9" x2="210.76" y2="598.4" stroke="#333333" stroke-width="0.9"/>
<line x1="226.92" y1="596.9" x2="226.92" y2="599.9" stroke="#333333" stroke-width="0.9"/>
<text x="226.92" y="610.0" font-size="8.6" text-anchor="middle" font-weight="normal" fill="#474747" stroke="#474747" stroke-width="0.1" textLength="9.0" lengthAdjust="spacingAndGlyphs">20</text>
<line x1="243.08" y1="596.9" x2="243.08" y2="598.4" stroke="#333333" stroke-width="0.9"/>
<line x1="259.24" y1="596.9" x2="259.24" y2="599.9" stroke="#333333" stroke-width="0.9"/>
<text x="259.24" y="610.0" font-size="8.6" text-anchor="middle" font-weight="normal" fill="#474747" stroke="#474747" stroke-width="0.1" textLength="9.0" lengthAdjust="spacingAndGlyphs">40</text>
<line x1="275.40" y1="596.9" x2="275.40" y2="598.4" stroke="#333333" stroke-width="0.9"/>
<line x1="291.56" y1="596.9" x2="291.56" y2="599.9" stroke="#333333" stroke-width="0.9"/>
<text x="291.56" y="610.0" font-size="8.6" text-anchor="middle" font-weight="normal" fill="#474747" stroke="#474747" stroke-width="0.1" textLength="9.0" lengthAdjust="spacingAndGlyphs">60</text>
<line x1="307.72" y1="596.9" x2="307.72" y2="598.4" stroke="#333333" stroke-width="0.9"/>
<line x1="323.88" y1="596.9" x2="323.88" y2="599.9" stroke="#333333" stroke-width="0.9"/>
<text x="323.88" y="610.0" font-size="8.6" text-anchor="middle" font-weight="normal" fill="#474747" stroke="#474747" stroke-width="0.1" textLength="9.0" lengthAdjust="spacingAndGlyphs">80</text>
<line x1="340.04" y1="596.9" x2="340.04" y2="598.4" stroke="#333333" stroke-width="0.9"/>
<line x1="356.20" y1="596.9" x2="356.20" y2="599.9" stroke="#333333" stroke-width="0.9"/>
<text x="356.2" y="610.0" font-size="8.6" text-anchor="middle" font-weight="normal" fill="#474747" stroke="#474747" stroke-width="0.1" textLength="13.5" lengthAdjust="spacingAndGlyphs">100</text>
<path d="M194.6,494.9 H340.03999999999996" stroke="#55ad55" stroke-width="2.1" fill="none"/>
<line x1="340.34" y1="492.29999999999995" x2="340.34" y2="495.7" stroke="#3a3a3a" stroke-width="0.9"/>
<path d="M262.6,495.9 V520.4 H264.3 V545.9 H273.9 V596.9" stroke="#f2bc42" stroke-width="1.8" fill="none"/>
<text x="315.4" y="511.2" font-size="8.6" fill="#474747" stroke="#474747" stroke-width="0.1" textLength="33.3" lengthAdjust="spacingAndGlyphs"><tspan font-style="italic">P</tspan> = .0091</text>
<text x="276.9" y="622.6" font-size="9.8" text-anchor="middle" font-weight="normal" fill="#474747" stroke="#474747" stroke-width="0.1" textLength="37.7" lengthAdjust="spacingAndGlyphs">Time (days)</text>
<text transform="translate(173.1,543.4) rotate(-90)" font-size="10.3" text-anchor="middle" fill="#474747" stroke="#474747" stroke-width="0.1" textLength="50" lengthAdjust="spacingAndGlyphs">Overall survival</text>
<line x1="0" y1="0.5" x2="520" y2="0.5" stroke="#6a6a6a" stroke-width="1"/>
<line x1="0.5" y1="0" x2="0.5" y2="632" stroke="#555" stroke-width="1"/>
<line x1="519.5" y1="0" x2="519.5" y2="632" stroke="#4e4e4e" stroke-width="1"/>
<line x1="0" y1="631.5" x2="520" y2="631.5" stroke="#474747" stroke-width="1"/>
</svg></body></html>
